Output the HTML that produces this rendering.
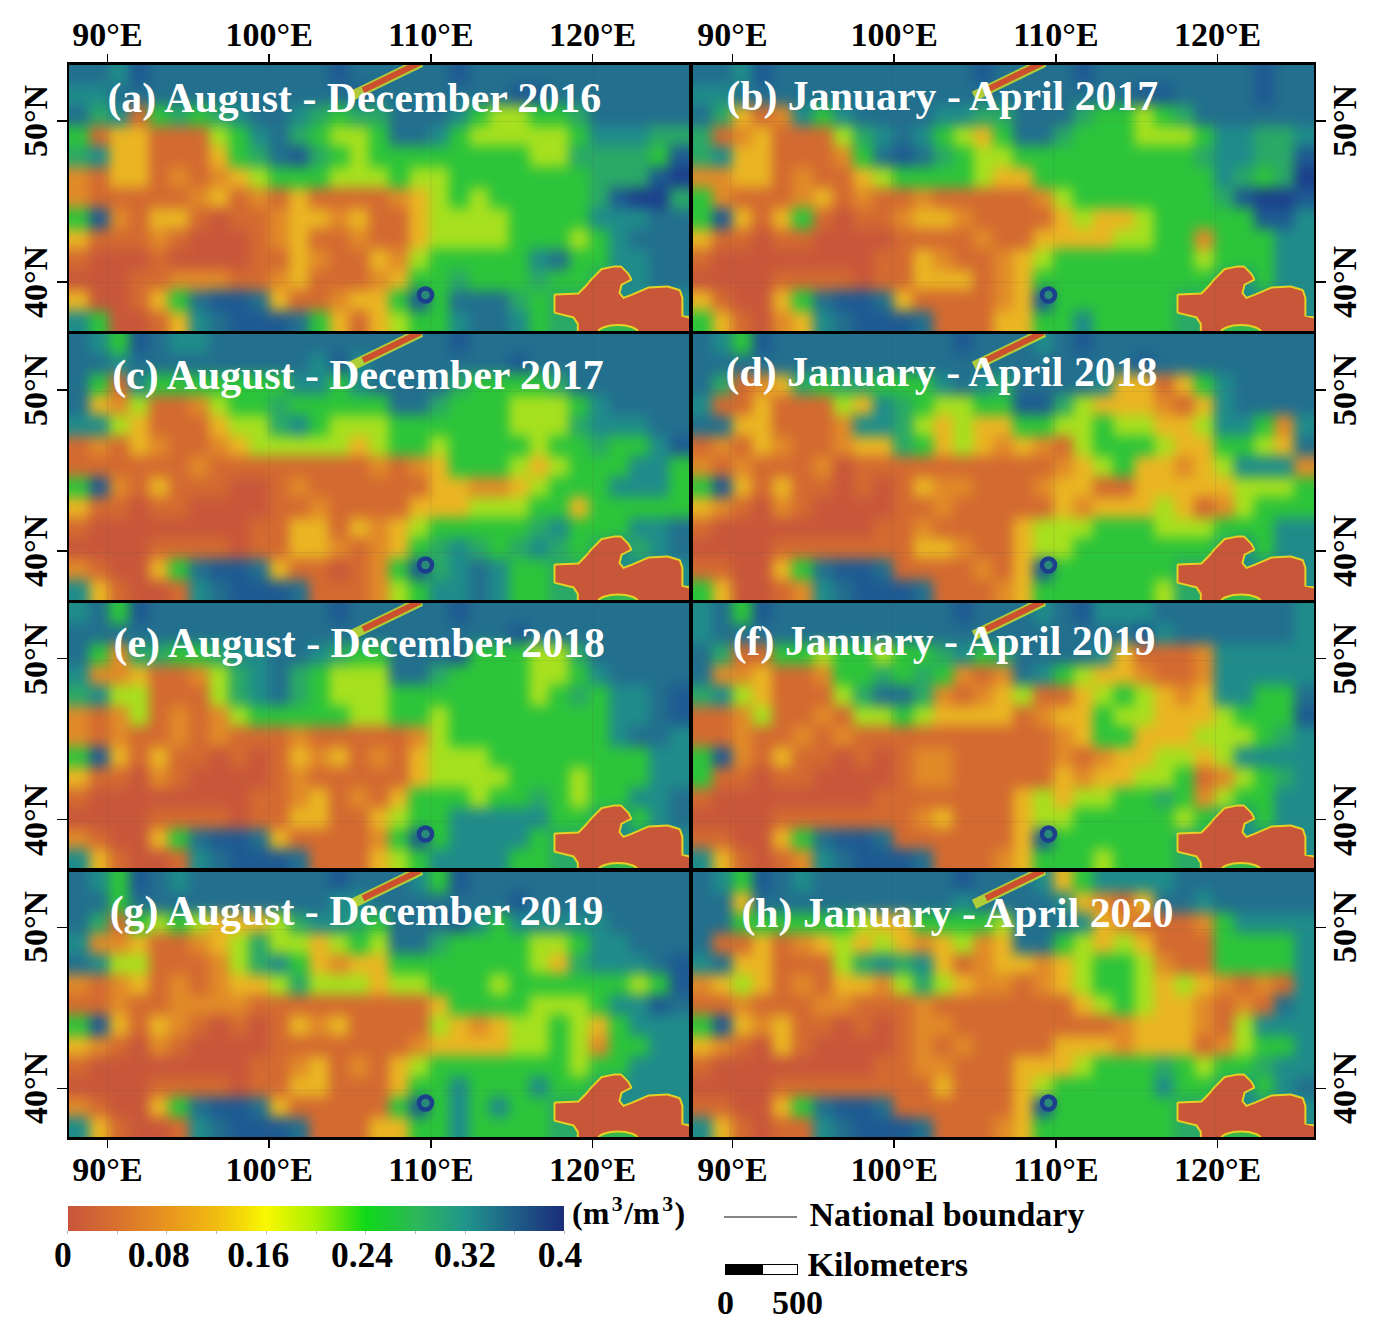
<!DOCTYPE html>
<html><head><meta charset="utf-8"><style>
html,body{margin:0;padding:0;background:#fff;width:1374px;height:1332px;overflow:hidden}
body{position:relative;font-family:'Liberation Serif', serif}
</style></head><body>
<div style="position:absolute;left:69px;top:64px;width:620px;height:267.5px;overflow:hidden"><svg style="position:absolute;left:-40.00px;top:-41.15px" width="700.00" height="349.81" viewBox="0 0 35 17" preserveAspectRatio="none"><defs><filter id="f0" x="-0.1" y="-0.1" width="1.2" height="1.2" color-interpolation-filters="sRGB"><feGaussianBlur stdDeviation="0.3"/></filter></defs><g filter="url(#f0)" shape-rendering="crispEdges"><rect width="35" height="17" fill="#226f8e"/><rect x="4" y="0" width="1" height="1.02" fill="#1f8c8a"/><rect x="5" y="0" width="1" height="1.02" fill="#1e5a92"/><rect x="15" y="0" width="1" height="1.02" fill="#1e5a92"/><rect x="21" y="0" width="1" height="1.02" fill="#1e5a92"/><rect x="4" y="1" width="1" height="1.02" fill="#1f8c8a"/><rect x="5" y="1" width="1" height="1.02" fill="#1e5a92"/><rect x="15" y="1" width="1" height="1.02" fill="#1e5a92"/><rect x="21" y="1" width="1" height="1.02" fill="#1e5a92"/><rect x="4" y="2" width="1" height="1.02" fill="#1f8c8a"/><rect x="5" y="2" width="1" height="1.02" fill="#1e5a92"/><rect x="15" y="2" width="1" height="1.02" fill="#1e5a92"/><rect x="21" y="2" width="1" height="1.02" fill="#1e5a92"/><rect x="0" y="3" width="4" height="1.02" fill="#1f8c8a"/><rect x="16" y="3" width="1" height="1.02" fill="#1e5a92"/><rect x="24" y="3" width="2" height="1.02" fill="#1e5a92"/><rect x="3" y="4" width="1" height="1.02" fill="#2aa866"/><rect x="4" y="4" width="1" height="1.02" fill="#1f8c8a"/><rect x="5" y="4" width="1" height="1.02" fill="#d36a30"/><rect x="6" y="4" width="1" height="1.02" fill="#2cc43a"/><rect x="7" y="4" width="1" height="1.02" fill="#2aa866"/><rect x="8" y="4" width="1" height="1.02" fill="#2cc43a"/><rect x="9" y="4" width="1" height="1.02" fill="#2aa866"/><rect x="10" y="4" width="1" height="1.02" fill="#1f8c8a"/><rect x="13" y="4" width="1" height="1.02" fill="#1f8c8a"/><rect x="14" y="4" width="1" height="1.02" fill="#2aa866"/><rect x="15" y="4" width="1" height="1.02" fill="#2cc43a"/><rect x="16" y="4" width="2" height="1.02" fill="#2aa866"/><rect x="21" y="4" width="1" height="1.02" fill="#1f8c8a"/><rect x="22" y="4" width="1" height="1.02" fill="#2cc43a"/><rect x="23" y="4" width="2" height="1.02" fill="#a6e01e"/><rect x="25" y="4" width="2" height="1.02" fill="#2cc43a"/><rect x="27" y="4" width="1" height="1.02" fill="#2aa866"/><rect x="0" y="5" width="3" height="1.02" fill="#2cc43a"/><rect x="3" y="5" width="1" height="1.02" fill="#d36a30"/><rect x="4" y="5" width="2" height="1.02" fill="#eab522"/><rect x="6" y="5" width="3" height="1.02" fill="#d36a30"/><rect x="9" y="5" width="1" height="1.02" fill="#a6e01e"/><rect x="10" y="5" width="1" height="1.02" fill="#2cc43a"/><rect x="11" y="5" width="1" height="1.02" fill="#1f8c8a"/><rect x="13" y="5" width="1" height="1.02" fill="#2aa866"/><rect x="14" y="5" width="1" height="1.02" fill="#2cc43a"/><rect x="15" y="5" width="2" height="1.02" fill="#a6e01e"/><rect x="17" y="5" width="1" height="1.02" fill="#2cc43a"/><rect x="20" y="5" width="1" height="1.02" fill="#1f8c8a"/><rect x="21" y="5" width="1" height="1.02" fill="#2cc43a"/><rect x="22" y="5" width="5" height="1.02" fill="#a6e01e"/><rect x="27" y="5" width="1" height="1.02" fill="#2cc43a"/><rect x="28" y="5" width="3" height="1.02" fill="#1f8c8a"/><rect x="31" y="5" width="4" height="1.02" fill="#2aa866"/><rect x="0" y="6" width="3" height="1.02" fill="#2aa866"/><rect x="3" y="6" width="1" height="1.02" fill="#1f8c8a"/><rect x="4" y="6" width="2" height="1.02" fill="#eab522"/><rect x="6" y="6" width="3" height="1.02" fill="#d36a30"/><rect x="9" y="6" width="1" height="1.02" fill="#eab522"/><rect x="10" y="6" width="1" height="1.02" fill="#2cc43a"/><rect x="11" y="6" width="1" height="1.02" fill="#2aa866"/><rect x="13" y="6" width="1" height="1.02" fill="#1e5a92"/><rect x="14" y="6" width="1" height="1.02" fill="#2aa866"/><rect x="15" y="6" width="1" height="1.02" fill="#2cc43a"/><rect x="16" y="6" width="1" height="1.02" fill="#a6e01e"/><rect x="17" y="6" width="8" height="1.02" fill="#2cc43a"/><rect x="25" y="6" width="2" height="1.02" fill="#a6e01e"/><rect x="27" y="6" width="4" height="1.02" fill="#2aa866"/><rect x="31" y="6" width="1" height="1.02" fill="#2cc43a"/><rect x="32" y="6" width="3" height="1.02" fill="#1e5a92"/><rect x="0" y="7" width="3" height="1.02" fill="#e08a28"/><rect x="3" y="7" width="1" height="1.02" fill="#d36a30"/><rect x="4" y="7" width="2" height="1.02" fill="#eab522"/><rect x="6" y="7" width="1" height="1.02" fill="#d36a30"/><rect x="7" y="7" width="1" height="1.02" fill="#e08a28"/><rect x="8" y="7" width="1" height="1.02" fill="#d36a30"/><rect x="9" y="7" width="1" height="1.02" fill="#e08a28"/><rect x="10" y="7" width="1" height="1.02" fill="#eab522"/><rect x="11" y="7" width="1" height="1.02" fill="#a6e01e"/><rect x="12" y="7" width="3" height="1.02" fill="#2cc43a"/><rect x="15" y="7" width="3" height="1.02" fill="#a6e01e"/><rect x="18" y="7" width="1" height="1.02" fill="#2cc43a"/><rect x="19" y="7" width="2" height="1.02" fill="#a6e01e"/><rect x="21" y="7" width="7" height="1.02" fill="#2cc43a"/><rect x="28" y="7" width="3" height="1.02" fill="#2aa866"/><rect x="31" y="7" width="1" height="1.02" fill="#1e5a92"/><rect x="32" y="7" width="3" height="1.02" fill="#1b3f8c"/><rect x="0" y="8" width="3" height="1.02" fill="#e08a28"/><rect x="3" y="8" width="5" height="1.02" fill="#d36a30"/><rect x="8" y="8" width="1" height="1.02" fill="#e08a28"/><rect x="9" y="8" width="1" height="1.02" fill="#eab522"/><rect x="10" y="8" width="1" height="1.02" fill="#d36a30"/><rect x="11" y="8" width="1" height="1.02" fill="#e08a28"/><rect x="12" y="8" width="1" height="1.02" fill="#d36a30"/><rect x="13" y="8" width="1" height="1.02" fill="#eab522"/><rect x="14" y="8" width="4" height="1.02" fill="#d36a30"/><rect x="18" y="8" width="1" height="1.02" fill="#e08a28"/><rect x="19" y="8" width="1" height="1.02" fill="#eab522"/><rect x="20" y="8" width="1" height="1.02" fill="#a6e01e"/><rect x="21" y="8" width="1" height="1.02" fill="#2cc43a"/><rect x="22" y="8" width="1" height="1.02" fill="#a6e01e"/><rect x="23" y="8" width="5" height="1.02" fill="#2cc43a"/><rect x="28" y="8" width="1" height="1.02" fill="#2aa866"/><rect x="29" y="8" width="1" height="1.02" fill="#1e5a92"/><rect x="30" y="8" width="2" height="1.02" fill="#1b3f8c"/><rect x="32" y="8" width="3" height="1.02" fill="#2aa866"/><rect x="0" y="9" width="3" height="1.02" fill="#2cc43a"/><rect x="3" y="9" width="1" height="1.02" fill="#1e5a92"/><rect x="4" y="9" width="1" height="1.02" fill="#e08a28"/><rect x="5" y="9" width="1" height="1.02" fill="#d36a30"/><rect x="6" y="9" width="2" height="1.02" fill="#eab522"/><rect x="8" y="9" width="1" height="1.02" fill="#d36a30"/><rect x="9" y="9" width="1" height="1.02" fill="#c8573a"/><rect x="10" y="9" width="2" height="1.02" fill="#d36a30"/><rect x="12" y="9" width="1" height="1.02" fill="#e08a28"/><rect x="13" y="9" width="2" height="1.02" fill="#eab522"/><rect x="15" y="9" width="1" height="1.02" fill="#e08a28"/><rect x="16" y="9" width="1" height="1.02" fill="#eab522"/><rect x="17" y="9" width="2" height="1.02" fill="#d36a30"/><rect x="19" y="9" width="1" height="1.02" fill="#eab522"/><rect x="20" y="9" width="4" height="1.02" fill="#a6e01e"/><rect x="24" y="9" width="4" height="1.02" fill="#2cc43a"/><rect x="28" y="9" width="3" height="1.02" fill="#1f8c8a"/><rect x="0" y="10" width="3" height="1.02" fill="#eab522"/><rect x="3" y="10" width="3" height="1.02" fill="#d36a30"/><rect x="6" y="10" width="1" height="1.02" fill="#e08a28"/><rect x="7" y="10" width="1" height="1.02" fill="#d36a30"/><rect x="8" y="10" width="3" height="1.02" fill="#c8573a"/><rect x="11" y="10" width="1" height="1.02" fill="#d36a30"/><rect x="12" y="10" width="1" height="1.02" fill="#e08a28"/><rect x="13" y="10" width="1" height="1.02" fill="#eab522"/><rect x="14" y="10" width="2" height="1.02" fill="#d36a30"/><rect x="16" y="10" width="1" height="1.02" fill="#e08a28"/><rect x="17" y="10" width="2" height="1.02" fill="#d36a30"/><rect x="19" y="10" width="1" height="1.02" fill="#eab522"/><rect x="20" y="10" width="4" height="1.02" fill="#a6e01e"/><rect x="24" y="10" width="3" height="1.02" fill="#2cc43a"/><rect x="27" y="10" width="1" height="1.02" fill="#a6e01e"/><rect x="28" y="10" width="1" height="1.02" fill="#2cc43a"/><rect x="29" y="10" width="1" height="1.02" fill="#1f8c8a"/><rect x="0" y="11" width="3" height="1.02" fill="#d36a30"/><rect x="3" y="11" width="3" height="1.02" fill="#c8573a"/><rect x="6" y="11" width="1" height="1.02" fill="#d36a30"/><rect x="7" y="11" width="4" height="1.02" fill="#c8573a"/><rect x="11" y="11" width="2" height="1.02" fill="#d36a30"/><rect x="13" y="11" width="1" height="1.02" fill="#eab522"/><rect x="14" y="11" width="1" height="1.02" fill="#e08a28"/><rect x="15" y="11" width="2" height="1.02" fill="#d36a30"/><rect x="17" y="11" width="1" height="1.02" fill="#eab522"/><rect x="18" y="11" width="1" height="1.02" fill="#e08a28"/><rect x="19" y="11" width="1" height="1.02" fill="#a6e01e"/><rect x="20" y="11" width="5" height="1.02" fill="#2cc43a"/><rect x="25" y="11" width="1" height="1.02" fill="#1f8c8a"/><rect x="27" y="11" width="2" height="1.02" fill="#2cc43a"/><rect x="29" y="11" width="2" height="1.02" fill="#1f8c8a"/><rect x="0" y="12" width="5" height="1.02" fill="#c8573a"/><rect x="5" y="12" width="2" height="1.02" fill="#d36a30"/><rect x="7" y="12" width="3" height="1.02" fill="#e08a28"/><rect x="10" y="12" width="2" height="1.02" fill="#d36a30"/><rect x="12" y="12" width="1" height="1.02" fill="#e08a28"/><rect x="13" y="12" width="1" height="1.02" fill="#eab522"/><rect x="14" y="12" width="3" height="1.02" fill="#d36a30"/><rect x="17" y="12" width="1" height="1.02" fill="#e08a28"/><rect x="18" y="12" width="1" height="1.02" fill="#eab522"/><rect x="19" y="12" width="2" height="1.02" fill="#2cc43a"/><rect x="21" y="12" width="1" height="1.02" fill="#2aa866"/><rect x="22" y="12" width="3" height="1.02" fill="#2cc43a"/><rect x="25" y="12" width="1" height="1.02" fill="#2aa866"/><rect x="26" y="12" width="2" height="1.02" fill="#2cc43a"/><rect x="28" y="12" width="1" height="1.02" fill="#2aa866"/><rect x="29" y="12" width="2" height="1.02" fill="#1f8c8a"/><rect x="0" y="13" width="3" height="1.02" fill="#eab522"/><rect x="3" y="13" width="2" height="1.02" fill="#c8573a"/><rect x="5" y="13" width="1" height="1.02" fill="#d36a30"/><rect x="6" y="13" width="1" height="1.02" fill="#eab522"/><rect x="7" y="13" width="1" height="1.02" fill="#2cc43a"/><rect x="9" y="13" width="2" height="1.02" fill="#1e5a92"/><rect x="12" y="13" width="1" height="1.02" fill="#eab522"/><rect x="13" y="13" width="2" height="1.02" fill="#d36a30"/><rect x="15" y="13" width="1" height="1.02" fill="#e08a28"/><rect x="16" y="13" width="2" height="1.02" fill="#eab522"/><rect x="18" y="13" width="1" height="1.02" fill="#2cc43a"/><rect x="19" y="13" width="1" height="1.02" fill="#1e5a92"/><rect x="20" y="13" width="1" height="1.02" fill="#2cc43a"/><rect x="24" y="13" width="1" height="1.02" fill="#2aa866"/><rect x="25" y="13" width="1" height="1.02" fill="#2cc43a"/><rect x="26" y="13" width="3" height="1.02" fill="#2aa866"/><rect x="29" y="13" width="6" height="1.02" fill="#1f8c8a"/><rect x="0" y="14" width="3" height="1.02" fill="#1f8c8a"/><rect x="3" y="14" width="1" height="1.02" fill="#2cc43a"/><rect x="4" y="14" width="2" height="1.02" fill="#c8573a"/><rect x="6" y="14" width="1" height="1.02" fill="#d36a30"/><rect x="7" y="14" width="1" height="1.02" fill="#eab522"/><rect x="8" y="14" width="1" height="1.02" fill="#1f8c8a"/><rect x="10" y="14" width="3" height="1.02" fill="#1e5a92"/><rect x="14" y="14" width="1" height="1.02" fill="#2cc43a"/><rect x="15" y="14" width="1" height="1.02" fill="#eab522"/><rect x="16" y="14" width="1" height="1.02" fill="#d36a30"/><rect x="17" y="14" width="1" height="1.02" fill="#eab522"/><rect x="18" y="14" width="1" height="1.02" fill="#a6e01e"/><rect x="19" y="14" width="2" height="1.02" fill="#2cc43a"/><rect x="21" y="14" width="1" height="1.02" fill="#1f8c8a"/><rect x="24" y="14" width="1" height="1.02" fill="#1f8c8a"/><rect x="25" y="14" width="1" height="1.02" fill="#2cc43a"/><rect x="26" y="14" width="3" height="1.02" fill="#2aa866"/><rect x="29" y="14" width="6" height="1.02" fill="#1f8c8a"/><rect x="0" y="15" width="3" height="1.02" fill="#1f8c8a"/><rect x="3" y="15" width="1" height="1.02" fill="#2cc43a"/><rect x="4" y="15" width="2" height="1.02" fill="#c8573a"/><rect x="6" y="15" width="1" height="1.02" fill="#d36a30"/><rect x="7" y="15" width="1" height="1.02" fill="#eab522"/><rect x="8" y="15" width="1" height="1.02" fill="#1f8c8a"/><rect x="10" y="15" width="3" height="1.02" fill="#1e5a92"/><rect x="14" y="15" width="1" height="1.02" fill="#2cc43a"/><rect x="15" y="15" width="1" height="1.02" fill="#eab522"/><rect x="16" y="15" width="1" height="1.02" fill="#d36a30"/><rect x="17" y="15" width="1" height="1.02" fill="#eab522"/><rect x="18" y="15" width="1" height="1.02" fill="#a6e01e"/><rect x="19" y="15" width="2" height="1.02" fill="#2cc43a"/><rect x="21" y="15" width="1" height="1.02" fill="#1f8c8a"/><rect x="24" y="15" width="1" height="1.02" fill="#1f8c8a"/><rect x="25" y="15" width="1" height="1.02" fill="#2cc43a"/><rect x="26" y="15" width="3" height="1.02" fill="#2aa866"/><rect x="29" y="15" width="6" height="1.02" fill="#1f8c8a"/><rect x="0" y="16" width="3" height="1.02" fill="#1f8c8a"/><rect x="3" y="16" width="1" height="1.02" fill="#2cc43a"/><rect x="4" y="16" width="2" height="1.02" fill="#c8573a"/><rect x="6" y="16" width="1" height="1.02" fill="#d36a30"/><rect x="7" y="16" width="1" height="1.02" fill="#eab522"/><rect x="8" y="16" width="1" height="1.02" fill="#1f8c8a"/><rect x="10" y="16" width="3" height="1.02" fill="#1e5a92"/><rect x="14" y="16" width="1" height="1.02" fill="#2cc43a"/><rect x="15" y="16" width="1" height="1.02" fill="#eab522"/><rect x="16" y="16" width="1" height="1.02" fill="#d36a30"/><rect x="17" y="16" width="1" height="1.02" fill="#eab522"/><rect x="18" y="16" width="1" height="1.02" fill="#a6e01e"/><rect x="19" y="16" width="2" height="1.02" fill="#2cc43a"/><rect x="21" y="16" width="1" height="1.02" fill="#1f8c8a"/><rect x="24" y="16" width="1" height="1.02" fill="#1f8c8a"/><rect x="25" y="16" width="1" height="1.02" fill="#2cc43a"/><rect x="26" y="16" width="3" height="1.02" fill="#2aa866"/><rect x="29" y="16" width="6" height="1.02" fill="#1f8c8a"/></g></svg><svg style="position:absolute;left:0;top:0" width="620" height="267.5"><line x1="282" y1="32.3" x2="352" y2="-1.8" stroke="#c8dc2c" stroke-width="10" stroke-opacity="0.85"/><line x1="294" y1="26.2" x2="351" y2="-1.5" stroke="#cc4f2e" stroke-width="6"/><polygon points="523.8,215.3 533.1,206.0 544.8,203.6 551.7,203.6 558.7,210.6 561.1,215.3 551.7,220.0 549.4,229.3 554.1,235.1 563.4,231.6 579.7,224.6 598.4,223.5 610.0,227.0 612.4,234.0 612.4,252.6 622.0,254.9 622.0,269.5 509.8,269.5 509.8,259.6 505.1,252.6 486.5,247.9 486.5,231.6 509.8,230.5 516.8,223.5" fill="#c8573a" stroke="#e6d024" stroke-width="4" stroke-linejoin="round" paint-order="stroke"/><ellipse cx="549" cy="268.5" rx="20" ry="7.5" fill="#36b84c" stroke="#e6d024" stroke-width="2"/><circle cx="356.5" cy="231" r="6.5" fill="#2a8a7a" stroke="#1b3f8c" stroke-width="4.5"/><line x1="38.5" y1="0" x2="38.5" y2="267.5" stroke="#555" stroke-opacity="0.12" stroke-width="1"/><line x1="200.2" y1="0" x2="200.2" y2="267.5" stroke="#555" stroke-opacity="0.12" stroke-width="1"/><line x1="361.9" y1="0" x2="361.9" y2="267.5" stroke="#555" stroke-opacity="0.12" stroke-width="1"/><line x1="523.6" y1="0" x2="523.6" y2="267.5" stroke="#555" stroke-opacity="0.12" stroke-width="1"/><line x1="0" y1="57.5" x2="620" y2="57.5" stroke="#555" stroke-opacity="0.12" stroke-width="1"/><line x1="0" y1="218.5" x2="620" y2="218.5" stroke="#555" stroke-opacity="0.12" stroke-width="1"/></svg></div><div style="position:absolute;left:692px;top:64px;width:622px;height:267.5px;overflow:hidden"><svg style="position:absolute;left:-40.13px;top:-41.15px" width="702.26" height="349.81" viewBox="0 0 35 17" preserveAspectRatio="none"><defs><filter id="f1" x="-0.1" y="-0.1" width="1.2" height="1.2" color-interpolation-filters="sRGB"><feGaussianBlur stdDeviation="0.3"/></filter></defs><g filter="url(#f1)" shape-rendering="crispEdges"><rect width="35" height="17" fill="#226f8e"/><rect x="4" y="0" width="1" height="1.02" fill="#1f8c8a"/><rect x="5" y="0" width="1" height="1.02" fill="#1e5a92"/><rect x="16" y="0" width="1" height="1.02" fill="#1e5a92"/><rect x="21" y="0" width="1" height="1.02" fill="#1e5a92"/><rect x="30" y="0" width="1" height="1.02" fill="#1e5a92"/><rect x="4" y="1" width="1" height="1.02" fill="#1f8c8a"/><rect x="5" y="1" width="1" height="1.02" fill="#1e5a92"/><rect x="16" y="1" width="1" height="1.02" fill="#1e5a92"/><rect x="21" y="1" width="1" height="1.02" fill="#1e5a92"/><rect x="30" y="1" width="1" height="1.02" fill="#1e5a92"/><rect x="4" y="2" width="1" height="1.02" fill="#1f8c8a"/><rect x="5" y="2" width="1" height="1.02" fill="#1e5a92"/><rect x="16" y="2" width="1" height="1.02" fill="#1e5a92"/><rect x="21" y="2" width="1" height="1.02" fill="#1e5a92"/><rect x="30" y="2" width="1" height="1.02" fill="#1e5a92"/><rect x="0" y="3" width="4" height="1.02" fill="#1f8c8a"/><rect x="24" y="3" width="2" height="1.02" fill="#1e5a92"/><rect x="30" y="3" width="1" height="1.02" fill="#1e5a92"/><rect x="3" y="4" width="1" height="1.02" fill="#2aa866"/><rect x="4" y="4" width="1" height="1.02" fill="#eab522"/><rect x="5" y="4" width="1" height="1.02" fill="#d36a30"/><rect x="6" y="4" width="1" height="1.02" fill="#e08a28"/><rect x="7" y="4" width="1" height="1.02" fill="#1f8c8a"/><rect x="8" y="4" width="1" height="1.02" fill="#2cc43a"/><rect x="9" y="4" width="1" height="1.02" fill="#1f8c8a"/><rect x="14" y="4" width="2" height="1.02" fill="#1f8c8a"/><rect x="16" y="4" width="2" height="1.02" fill="#2aa866"/><rect x="21" y="4" width="1" height="1.02" fill="#2aa866"/><rect x="22" y="4" width="2" height="1.02" fill="#2cc43a"/><rect x="24" y="4" width="1" height="1.02" fill="#a6e01e"/><rect x="25" y="4" width="1" height="1.02" fill="#2cc43a"/><rect x="26" y="4" width="1" height="1.02" fill="#2aa866"/><rect x="0" y="5" width="3" height="1.02" fill="#2aa866"/><rect x="3" y="5" width="1" height="1.02" fill="#d36a30"/><rect x="4" y="5" width="1" height="1.02" fill="#e08a28"/><rect x="5" y="5" width="1" height="1.02" fill="#eab522"/><rect x="6" y="5" width="3" height="1.02" fill="#d36a30"/><rect x="9" y="5" width="1" height="1.02" fill="#a6e01e"/><rect x="10" y="5" width="1" height="1.02" fill="#2aa866"/><rect x="11" y="5" width="1" height="1.02" fill="#1f8c8a"/><rect x="13" y="5" width="1" height="1.02" fill="#1f8c8a"/><rect x="14" y="5" width="1" height="1.02" fill="#2cc43a"/><rect x="15" y="5" width="1" height="1.02" fill="#a6e01e"/><rect x="16" y="5" width="1" height="1.02" fill="#eab522"/><rect x="17" y="5" width="1" height="1.02" fill="#2cc43a"/><rect x="20" y="5" width="1" height="1.02" fill="#2aa866"/><rect x="21" y="5" width="3" height="1.02" fill="#2cc43a"/><rect x="24" y="5" width="3" height="1.02" fill="#a6e01e"/><rect x="27" y="5" width="1" height="1.02" fill="#2cc43a"/><rect x="28" y="5" width="2" height="1.02" fill="#1f8c8a"/><rect x="30" y="5" width="2" height="1.02" fill="#2aa866"/><rect x="32" y="5" width="3" height="1.02" fill="#1f8c8a"/><rect x="0" y="6" width="3" height="1.02" fill="#2aa866"/><rect x="3" y="6" width="1" height="1.02" fill="#1f8c8a"/><rect x="4" y="6" width="2" height="1.02" fill="#eab522"/><rect x="6" y="6" width="3" height="1.02" fill="#d36a30"/><rect x="9" y="6" width="1" height="1.02" fill="#e08a28"/><rect x="10" y="6" width="1" height="1.02" fill="#2cc43a"/><rect x="12" y="6" width="1" height="1.02" fill="#1e5a92"/><rect x="14" y="6" width="1" height="1.02" fill="#2aa866"/><rect x="15" y="6" width="1" height="1.02" fill="#2cc43a"/><rect x="16" y="6" width="2" height="1.02" fill="#a6e01e"/><rect x="18" y="6" width="9" height="1.02" fill="#2cc43a"/><rect x="27" y="6" width="1" height="1.02" fill="#2aa866"/><rect x="28" y="6" width="2" height="1.02" fill="#1f8c8a"/><rect x="30" y="6" width="2" height="1.02" fill="#2aa866"/><rect x="32" y="6" width="3" height="1.02" fill="#1e5a92"/><rect x="0" y="7" width="4" height="1.02" fill="#e08a28"/><rect x="4" y="7" width="2" height="1.02" fill="#eab522"/><rect x="6" y="7" width="1" height="1.02" fill="#d36a30"/><rect x="7" y="7" width="1" height="1.02" fill="#e08a28"/><rect x="8" y="7" width="2" height="1.02" fill="#d36a30"/><rect x="10" y="7" width="1" height="1.02" fill="#eab522"/><rect x="11" y="7" width="1" height="1.02" fill="#a6e01e"/><rect x="12" y="7" width="4" height="1.02" fill="#2cc43a"/><rect x="16" y="7" width="1" height="1.02" fill="#a6e01e"/><rect x="17" y="7" width="2" height="1.02" fill="#eab522"/><rect x="19" y="7" width="9" height="1.02" fill="#2cc43a"/><rect x="28" y="7" width="1" height="1.02" fill="#1f8c8a"/><rect x="29" y="7" width="1" height="1.02" fill="#2aa866"/><rect x="30" y="7" width="1" height="1.02" fill="#2cc43a"/><rect x="31" y="7" width="1" height="1.02" fill="#2aa866"/><rect x="32" y="7" width="3" height="1.02" fill="#1b3f8c"/><rect x="0" y="8" width="3" height="1.02" fill="#2cc43a"/><rect x="3" y="8" width="1" height="1.02" fill="#e08a28"/><rect x="4" y="8" width="3" height="1.02" fill="#d36a30"/><rect x="7" y="8" width="1" height="1.02" fill="#e08a28"/><rect x="8" y="8" width="1" height="1.02" fill="#eab522"/><rect x="9" y="8" width="1" height="1.02" fill="#d36a30"/><rect x="10" y="8" width="1" height="1.02" fill="#e08a28"/><rect x="11" y="8" width="2" height="1.02" fill="#d36a30"/><rect x="13" y="8" width="1" height="1.02" fill="#e08a28"/><rect x="14" y="8" width="5" height="1.02" fill="#d36a30"/><rect x="19" y="8" width="1" height="1.02" fill="#e08a28"/><rect x="20" y="8" width="1" height="1.02" fill="#a6e01e"/><rect x="21" y="8" width="7" height="1.02" fill="#2cc43a"/><rect x="28" y="8" width="1" height="1.02" fill="#2aa866"/><rect x="29" y="8" width="1" height="1.02" fill="#1e5a92"/><rect x="30" y="8" width="2" height="1.02" fill="#1b3f8c"/><rect x="32" y="8" width="3" height="1.02" fill="#1e5a92"/><rect x="0" y="9" width="3" height="1.02" fill="#2cc43a"/><rect x="3" y="9" width="1" height="1.02" fill="#1e5a92"/><rect x="4" y="9" width="1" height="1.02" fill="#eab522"/><rect x="5" y="9" width="1" height="1.02" fill="#d36a30"/><rect x="6" y="9" width="1" height="1.02" fill="#eab522"/><rect x="7" y="9" width="1" height="1.02" fill="#2cc43a"/><rect x="8" y="9" width="1" height="1.02" fill="#d36a30"/><rect x="9" y="9" width="1" height="1.02" fill="#c8573a"/><rect x="10" y="9" width="2" height="1.02" fill="#d36a30"/><rect x="12" y="9" width="1" height="1.02" fill="#e08a28"/><rect x="13" y="9" width="2" height="1.02" fill="#eab522"/><rect x="15" y="9" width="1" height="1.02" fill="#e08a28"/><rect x="16" y="9" width="4" height="1.02" fill="#d36a30"/><rect x="20" y="9" width="1" height="1.02" fill="#eab522"/><rect x="21" y="9" width="1" height="1.02" fill="#a6e01e"/><rect x="22" y="9" width="2" height="1.02" fill="#eab522"/><rect x="24" y="9" width="1" height="1.02" fill="#a6e01e"/><rect x="25" y="9" width="5" height="1.02" fill="#2cc43a"/><rect x="30" y="9" width="2" height="1.02" fill="#1e5a92"/><rect x="32" y="9" width="3" height="1.02" fill="#1f8c8a"/><rect x="0" y="10" width="3" height="1.02" fill="#eab522"/><rect x="3" y="10" width="2" height="1.02" fill="#d36a30"/><rect x="5" y="10" width="1" height="1.02" fill="#c8573a"/><rect x="6" y="10" width="2" height="1.02" fill="#d36a30"/><rect x="8" y="10" width="4" height="1.02" fill="#c8573a"/><rect x="12" y="10" width="4" height="1.02" fill="#d36a30"/><rect x="16" y="10" width="1" height="1.02" fill="#e08a28"/><rect x="17" y="10" width="2" height="1.02" fill="#d36a30"/><rect x="19" y="10" width="4" height="1.02" fill="#eab522"/><rect x="23" y="10" width="2" height="1.02" fill="#a6e01e"/><rect x="25" y="10" width="2" height="1.02" fill="#2cc43a"/><rect x="27" y="10" width="1" height="1.02" fill="#e08a28"/><rect x="28" y="10" width="3" height="1.02" fill="#2cc43a"/><rect x="31" y="10" width="4" height="1.02" fill="#1f8c8a"/><rect x="0" y="11" width="3" height="1.02" fill="#d36a30"/><rect x="3" y="11" width="8" height="1.02" fill="#c8573a"/><rect x="11" y="11" width="2" height="1.02" fill="#d36a30"/><rect x="13" y="11" width="1" height="1.02" fill="#eab522"/><rect x="14" y="11" width="1" height="1.02" fill="#e08a28"/><rect x="15" y="11" width="2" height="1.02" fill="#d36a30"/><rect x="17" y="11" width="1" height="1.02" fill="#e08a28"/><rect x="18" y="11" width="1" height="1.02" fill="#eab522"/><rect x="19" y="11" width="1" height="1.02" fill="#a6e01e"/><rect x="20" y="11" width="7" height="1.02" fill="#2cc43a"/><rect x="27" y="11" width="1" height="1.02" fill="#a6e01e"/><rect x="28" y="11" width="3" height="1.02" fill="#2cc43a"/><rect x="31" y="11" width="4" height="1.02" fill="#1f8c8a"/><rect x="0" y="12" width="6" height="1.02" fill="#c8573a"/><rect x="6" y="12" width="4" height="1.02" fill="#d36a30"/><rect x="10" y="12" width="1" height="1.02" fill="#c8573a"/><rect x="11" y="12" width="2" height="1.02" fill="#d36a30"/><rect x="13" y="12" width="3" height="1.02" fill="#eab522"/><rect x="16" y="12" width="1" height="1.02" fill="#d36a30"/><rect x="17" y="12" width="1" height="1.02" fill="#e08a28"/><rect x="18" y="12" width="1" height="1.02" fill="#eab522"/><rect x="19" y="12" width="9" height="1.02" fill="#2cc43a"/><rect x="28" y="12" width="1" height="1.02" fill="#2aa866"/><rect x="29" y="12" width="1" height="1.02" fill="#1f8c8a"/><rect x="30" y="12" width="1" height="1.02" fill="#2cc43a"/><rect x="31" y="12" width="4" height="1.02" fill="#1f8c8a"/><rect x="0" y="13" width="3" height="1.02" fill="#eab522"/><rect x="3" y="13" width="1" height="1.02" fill="#d36a30"/><rect x="4" y="13" width="2" height="1.02" fill="#c8573a"/><rect x="6" y="13" width="1" height="1.02" fill="#eab522"/><rect x="7" y="13" width="1" height="1.02" fill="#2cc43a"/><rect x="9" y="13" width="2" height="1.02" fill="#1e5a92"/><rect x="12" y="13" width="1" height="1.02" fill="#eab522"/><rect x="13" y="13" width="4" height="1.02" fill="#d36a30"/><rect x="17" y="13" width="1" height="1.02" fill="#e08a28"/><rect x="18" y="13" width="1" height="1.02" fill="#eab522"/><rect x="19" y="13" width="1" height="1.02" fill="#1e5a92"/><rect x="20" y="13" width="6" height="1.02" fill="#2cc43a"/><rect x="26" y="13" width="3" height="1.02" fill="#2aa866"/><rect x="29" y="13" width="6" height="1.02" fill="#1f8c8a"/><rect x="0" y="14" width="3" height="1.02" fill="#2cc43a"/><rect x="3" y="14" width="1" height="1.02" fill="#eab522"/><rect x="4" y="14" width="1" height="1.02" fill="#d36a30"/><rect x="5" y="14" width="1" height="1.02" fill="#c8573a"/><rect x="6" y="14" width="1" height="1.02" fill="#e08a28"/><rect x="7" y="14" width="1" height="1.02" fill="#eab522"/><rect x="8" y="14" width="1" height="1.02" fill="#1f8c8a"/><rect x="10" y="14" width="3" height="1.02" fill="#1e5a92"/><rect x="14" y="14" width="3" height="1.02" fill="#d36a30"/><rect x="17" y="14" width="2" height="1.02" fill="#eab522"/><rect x="19" y="14" width="2" height="1.02" fill="#2cc43a"/><rect x="21" y="14" width="1" height="1.02" fill="#1f8c8a"/><rect x="22" y="14" width="4" height="1.02" fill="#2cc43a"/><rect x="26" y="14" width="3" height="1.02" fill="#2aa866"/><rect x="29" y="14" width="6" height="1.02" fill="#1f8c8a"/><rect x="0" y="15" width="3" height="1.02" fill="#2cc43a"/><rect x="3" y="15" width="1" height="1.02" fill="#eab522"/><rect x="4" y="15" width="1" height="1.02" fill="#d36a30"/><rect x="5" y="15" width="1" height="1.02" fill="#c8573a"/><rect x="6" y="15" width="1" height="1.02" fill="#e08a28"/><rect x="7" y="15" width="1" height="1.02" fill="#eab522"/><rect x="8" y="15" width="1" height="1.02" fill="#1f8c8a"/><rect x="10" y="15" width="3" height="1.02" fill="#1e5a92"/><rect x="14" y="15" width="3" height="1.02" fill="#d36a30"/><rect x="17" y="15" width="2" height="1.02" fill="#eab522"/><rect x="19" y="15" width="2" height="1.02" fill="#2cc43a"/><rect x="21" y="15" width="1" height="1.02" fill="#1f8c8a"/><rect x="22" y="15" width="4" height="1.02" fill="#2cc43a"/><rect x="26" y="15" width="3" height="1.02" fill="#2aa866"/><rect x="29" y="15" width="6" height="1.02" fill="#1f8c8a"/><rect x="0" y="16" width="3" height="1.02" fill="#2cc43a"/><rect x="3" y="16" width="1" height="1.02" fill="#eab522"/><rect x="4" y="16" width="1" height="1.02" fill="#d36a30"/><rect x="5" y="16" width="1" height="1.02" fill="#c8573a"/><rect x="6" y="16" width="1" height="1.02" fill="#e08a28"/><rect x="7" y="16" width="1" height="1.02" fill="#eab522"/><rect x="8" y="16" width="1" height="1.02" fill="#1f8c8a"/><rect x="10" y="16" width="3" height="1.02" fill="#1e5a92"/><rect x="14" y="16" width="3" height="1.02" fill="#d36a30"/><rect x="17" y="16" width="2" height="1.02" fill="#eab522"/><rect x="19" y="16" width="2" height="1.02" fill="#2cc43a"/><rect x="21" y="16" width="1" height="1.02" fill="#1f8c8a"/><rect x="22" y="16" width="4" height="1.02" fill="#2cc43a"/><rect x="26" y="16" width="3" height="1.02" fill="#2aa866"/><rect x="29" y="16" width="6" height="1.02" fill="#1f8c8a"/></g></svg><svg style="position:absolute;left:0;top:0" width="622" height="267.5"><line x1="282" y1="32.3" x2="352" y2="-1.8" stroke="#c8dc2c" stroke-width="10" stroke-opacity="0.85"/><line x1="294" y1="26.2" x2="351" y2="-1.5" stroke="#cc4f2e" stroke-width="6"/><polygon points="523.8,215.3 533.1,206.0 544.8,203.6 551.7,203.6 558.7,210.6 561.1,215.3 551.7,220.0 549.4,229.3 554.1,235.1 563.4,231.6 579.7,224.6 598.4,223.5 610.0,227.0 612.4,234.0 612.4,252.6 624.0,254.9 624.0,269.5 509.8,269.5 509.8,259.6 505.1,252.6 486.5,247.9 486.5,231.6 509.8,230.5 516.8,223.5" fill="#c8573a" stroke="#e6d024" stroke-width="4" stroke-linejoin="round" paint-order="stroke"/><ellipse cx="549" cy="268.5" rx="20" ry="7.5" fill="#36b84c" stroke="#e6d024" stroke-width="2"/><circle cx="356.5" cy="231" r="6.5" fill="#2a8a7a" stroke="#1b3f8c" stroke-width="4.5"/><line x1="38.5" y1="0" x2="38.5" y2="267.5" stroke="#555" stroke-opacity="0.12" stroke-width="1"/><line x1="200.2" y1="0" x2="200.2" y2="267.5" stroke="#555" stroke-opacity="0.12" stroke-width="1"/><line x1="361.9" y1="0" x2="361.9" y2="267.5" stroke="#555" stroke-opacity="0.12" stroke-width="1"/><line x1="523.6" y1="0" x2="523.6" y2="267.5" stroke="#555" stroke-opacity="0.12" stroke-width="1"/><line x1="0" y1="57.5" x2="622" y2="57.5" stroke="#555" stroke-opacity="0.12" stroke-width="1"/><line x1="0" y1="218.5" x2="622" y2="218.5" stroke="#555" stroke-opacity="0.12" stroke-width="1"/></svg></div><div style="position:absolute;left:69px;top:333.5px;width:620px;height:267.0px;overflow:hidden"><svg style="position:absolute;left:-40.00px;top:-41.08px" width="700.00" height="349.15" viewBox="0 0 35 17" preserveAspectRatio="none"><defs><filter id="f2" x="-0.1" y="-0.1" width="1.2" height="1.2" color-interpolation-filters="sRGB"><feGaussianBlur stdDeviation="0.3"/></filter></defs><g filter="url(#f2)" shape-rendering="crispEdges"><rect width="35" height="17" fill="#226f8e"/><rect x="3" y="0" width="1" height="1.02" fill="#1f8c8a"/><rect x="4" y="0" width="1" height="1.02" fill="#2cc43a"/><rect x="5" y="0" width="1" height="1.02" fill="#1e5a92"/><rect x="7" y="0" width="2" height="1.02" fill="#1f8c8a"/><rect x="21" y="0" width="1" height="1.02" fill="#1e5a92"/><rect x="3" y="1" width="1" height="1.02" fill="#1f8c8a"/><rect x="4" y="1" width="1" height="1.02" fill="#2cc43a"/><rect x="5" y="1" width="1" height="1.02" fill="#1e5a92"/><rect x="7" y="1" width="2" height="1.02" fill="#1f8c8a"/><rect x="21" y="1" width="1" height="1.02" fill="#1e5a92"/><rect x="3" y="2" width="1" height="1.02" fill="#1f8c8a"/><rect x="4" y="2" width="1" height="1.02" fill="#2cc43a"/><rect x="5" y="2" width="1" height="1.02" fill="#1e5a92"/><rect x="7" y="2" width="2" height="1.02" fill="#1f8c8a"/><rect x="21" y="2" width="1" height="1.02" fill="#1e5a92"/><rect x="4" y="3" width="1" height="1.02" fill="#1f8c8a"/><rect x="14" y="3" width="1" height="1.02" fill="#1f8c8a"/><rect x="15" y="3" width="1" height="1.02" fill="#1e5a92"/><rect x="16" y="3" width="1" height="1.02" fill="#1f8c8a"/><rect x="24" y="3" width="1" height="1.02" fill="#1e5a92"/><rect x="3" y="4" width="1" height="1.02" fill="#2cc43a"/><rect x="4" y="4" width="1" height="1.02" fill="#d36a30"/><rect x="5" y="4" width="1" height="1.02" fill="#1f8c8a"/><rect x="6" y="4" width="7" height="1.02" fill="#2cc43a"/><rect x="13" y="4" width="2" height="1.02" fill="#1f8c8a"/><rect x="15" y="4" width="1" height="1.02" fill="#2cc43a"/><rect x="16" y="4" width="1" height="1.02" fill="#1f8c8a"/><rect x="21" y="4" width="1" height="1.02" fill="#2aa866"/><rect x="22" y="4" width="4" height="1.02" fill="#2cc43a"/><rect x="26" y="4" width="1" height="1.02" fill="#2aa866"/><rect x="3" y="5" width="1" height="1.02" fill="#eab522"/><rect x="4" y="5" width="1" height="1.02" fill="#e08a28"/><rect x="5" y="5" width="1" height="1.02" fill="#a6e01e"/><rect x="6" y="5" width="2" height="1.02" fill="#d36a30"/><rect x="8" y="5" width="1" height="1.02" fill="#e08a28"/><rect x="9" y="5" width="1" height="1.02" fill="#a6e01e"/><rect x="10" y="5" width="2" height="1.02" fill="#2cc43a"/><rect x="12" y="5" width="1" height="1.02" fill="#2aa866"/><rect x="13" y="5" width="5" height="1.02" fill="#2cc43a"/><rect x="20" y="5" width="1" height="1.02" fill="#2aa866"/><rect x="21" y="5" width="3" height="1.02" fill="#2cc43a"/><rect x="24" y="5" width="3" height="1.02" fill="#a6e01e"/><rect x="27" y="5" width="1" height="1.02" fill="#2cc43a"/><rect x="28" y="5" width="1" height="1.02" fill="#1f8c8a"/><rect x="0" y="6" width="4" height="1.02" fill="#1f8c8a"/><rect x="4" y="6" width="1" height="1.02" fill="#a6e01e"/><rect x="5" y="6" width="1" height="1.02" fill="#eab522"/><rect x="6" y="6" width="3" height="1.02" fill="#d36a30"/><rect x="9" y="6" width="1" height="1.02" fill="#eab522"/><rect x="10" y="6" width="2" height="1.02" fill="#a6e01e"/><rect x="12" y="6" width="1" height="1.02" fill="#2aa866"/><rect x="13" y="6" width="1" height="1.02" fill="#1f8c8a"/><rect x="14" y="6" width="1" height="1.02" fill="#2cc43a"/><rect x="15" y="6" width="3" height="1.02" fill="#a6e01e"/><rect x="18" y="6" width="6" height="1.02" fill="#2cc43a"/><rect x="24" y="6" width="3" height="1.02" fill="#a6e01e"/><rect x="27" y="6" width="1" height="1.02" fill="#2aa866"/><rect x="28" y="6" width="3" height="1.02" fill="#1f8c8a"/><rect x="0" y="7" width="3" height="1.02" fill="#d36a30"/><rect x="3" y="7" width="1" height="1.02" fill="#e08a28"/><rect x="4" y="7" width="1" height="1.02" fill="#d36a30"/><rect x="5" y="7" width="1" height="1.02" fill="#eab522"/><rect x="6" y="7" width="1" height="1.02" fill="#e08a28"/><rect x="7" y="7" width="2" height="1.02" fill="#d36a30"/><rect x="9" y="7" width="1" height="1.02" fill="#e08a28"/><rect x="10" y="7" width="1" height="1.02" fill="#eab522"/><rect x="11" y="7" width="5" height="1.02" fill="#a6e01e"/><rect x="16" y="7" width="1" height="1.02" fill="#eab522"/><rect x="17" y="7" width="1" height="1.02" fill="#a6e01e"/><rect x="18" y="7" width="2" height="1.02" fill="#2cc43a"/><rect x="20" y="7" width="1" height="1.02" fill="#a6e01e"/><rect x="21" y="7" width="4" height="1.02" fill="#2cc43a"/><rect x="25" y="7" width="1" height="1.02" fill="#a6e01e"/><rect x="26" y="7" width="2" height="1.02" fill="#2cc43a"/><rect x="28" y="7" width="1" height="1.02" fill="#2aa866"/><rect x="29" y="7" width="2" height="1.02" fill="#2cc43a"/><rect x="31" y="7" width="1" height="1.02" fill="#1f8c8a"/><rect x="32" y="7" width="3" height="1.02" fill="#1e5a92"/><rect x="0" y="8" width="8" height="1.02" fill="#d36a30"/><rect x="8" y="8" width="1" height="1.02" fill="#e08a28"/><rect x="9" y="8" width="8" height="1.02" fill="#d36a30"/><rect x="17" y="8" width="1" height="1.02" fill="#e08a28"/><rect x="18" y="8" width="1" height="1.02" fill="#d36a30"/><rect x="19" y="8" width="1" height="1.02" fill="#e08a28"/><rect x="20" y="8" width="1" height="1.02" fill="#eab522"/><rect x="21" y="8" width="3" height="1.02" fill="#2cc43a"/><rect x="24" y="8" width="1" height="1.02" fill="#a6e01e"/><rect x="25" y="8" width="1" height="1.02" fill="#eab522"/><rect x="26" y="8" width="1" height="1.02" fill="#a6e01e"/><rect x="27" y="8" width="3" height="1.02" fill="#2cc43a"/><rect x="30" y="8" width="2" height="1.02" fill="#1f8c8a"/><rect x="32" y="8" width="3" height="1.02" fill="#2cc43a"/><rect x="0" y="9" width="3" height="1.02" fill="#2cc43a"/><rect x="3" y="9" width="1" height="1.02" fill="#1e5a92"/><rect x="4" y="9" width="1" height="1.02" fill="#e08a28"/><rect x="5" y="9" width="1" height="1.02" fill="#d36a30"/><rect x="6" y="9" width="1" height="1.02" fill="#eab522"/><rect x="7" y="9" width="3" height="1.02" fill="#d36a30"/><rect x="10" y="9" width="2" height="1.02" fill="#c8573a"/><rect x="12" y="9" width="1" height="1.02" fill="#d36a30"/><rect x="13" y="9" width="1" height="1.02" fill="#e08a28"/><rect x="14" y="9" width="6" height="1.02" fill="#d36a30"/><rect x="20" y="9" width="2" height="1.02" fill="#eab522"/><rect x="22" y="9" width="2" height="1.02" fill="#e08a28"/><rect x="24" y="9" width="1" height="1.02" fill="#eab522"/><rect x="25" y="9" width="1" height="1.02" fill="#a6e01e"/><rect x="26" y="9" width="3" height="1.02" fill="#2cc43a"/><rect x="29" y="9" width="3" height="1.02" fill="#1f8c8a"/><rect x="32" y="9" width="3" height="1.02" fill="#2cc43a"/><rect x="0" y="10" width="3" height="1.02" fill="#eab522"/><rect x="3" y="10" width="2" height="1.02" fill="#d36a30"/><rect x="5" y="10" width="1" height="1.02" fill="#c8573a"/><rect x="6" y="10" width="2" height="1.02" fill="#d36a30"/><rect x="8" y="10" width="4" height="1.02" fill="#c8573a"/><rect x="12" y="10" width="2" height="1.02" fill="#d36a30"/><rect x="14" y="10" width="1" height="1.02" fill="#e08a28"/><rect x="15" y="10" width="4" height="1.02" fill="#d36a30"/><rect x="19" y="10" width="3" height="1.02" fill="#eab522"/><rect x="22" y="10" width="3" height="1.02" fill="#a6e01e"/><rect x="25" y="10" width="2" height="1.02" fill="#2cc43a"/><rect x="27" y="10" width="1" height="1.02" fill="#eab522"/><rect x="28" y="10" width="7" height="1.02" fill="#2cc43a"/><rect x="0" y="11" width="3" height="1.02" fill="#d36a30"/><rect x="3" y="11" width="8" height="1.02" fill="#c8573a"/><rect x="11" y="11" width="2" height="1.02" fill="#d36a30"/><rect x="13" y="11" width="2" height="1.02" fill="#eab522"/><rect x="15" y="11" width="1" height="1.02" fill="#d36a30"/><rect x="16" y="11" width="1" height="1.02" fill="#eab522"/><rect x="17" y="11" width="1" height="1.02" fill="#e08a28"/><rect x="18" y="11" width="1" height="1.02" fill="#eab522"/><rect x="19" y="11" width="1" height="1.02" fill="#a6e01e"/><rect x="20" y="11" width="5" height="1.02" fill="#2cc43a"/><rect x="25" y="11" width="1" height="1.02" fill="#2aa866"/><rect x="26" y="11" width="1" height="1.02" fill="#1f8c8a"/><rect x="27" y="11" width="3" height="1.02" fill="#2cc43a"/><rect x="30" y="11" width="2" height="1.02" fill="#1f8c8a"/><rect x="0" y="12" width="6" height="1.02" fill="#c8573a"/><rect x="6" y="12" width="4" height="1.02" fill="#d36a30"/><rect x="10" y="12" width="1" height="1.02" fill="#c8573a"/><rect x="11" y="12" width="2" height="1.02" fill="#d36a30"/><rect x="13" y="12" width="2" height="1.02" fill="#eab522"/><rect x="15" y="12" width="1" height="1.02" fill="#e08a28"/><rect x="16" y="12" width="1" height="1.02" fill="#d36a30"/><rect x="17" y="12" width="1" height="1.02" fill="#e08a28"/><rect x="18" y="12" width="1" height="1.02" fill="#eab522"/><rect x="19" y="12" width="1" height="1.02" fill="#2cc43a"/><rect x="20" y="12" width="1" height="1.02" fill="#2aa866"/><rect x="21" y="12" width="1" height="1.02" fill="#1f8c8a"/><rect x="22" y="12" width="1" height="1.02" fill="#2aa866"/><rect x="23" y="12" width="1" height="1.02" fill="#2cc43a"/><rect x="24" y="12" width="1" height="1.02" fill="#2aa866"/><rect x="25" y="12" width="1" height="1.02" fill="#1f8c8a"/><rect x="26" y="12" width="1" height="1.02" fill="#2aa866"/><rect x="27" y="12" width="1" height="1.02" fill="#2cc43a"/><rect x="28" y="12" width="1" height="1.02" fill="#2aa866"/><rect x="29" y="12" width="1" height="1.02" fill="#1f8c8a"/><rect x="30" y="12" width="1" height="1.02" fill="#2aa866"/><rect x="31" y="12" width="1" height="1.02" fill="#1f8c8a"/><rect x="0" y="13" width="3" height="1.02" fill="#e08a28"/><rect x="3" y="13" width="1" height="1.02" fill="#d36a30"/><rect x="4" y="13" width="2" height="1.02" fill="#c8573a"/><rect x="6" y="13" width="1" height="1.02" fill="#eab522"/><rect x="7" y="13" width="1" height="1.02" fill="#2cc43a"/><rect x="9" y="13" width="2" height="1.02" fill="#1e5a92"/><rect x="12" y="13" width="1" height="1.02" fill="#eab522"/><rect x="13" y="13" width="2" height="1.02" fill="#d36a30"/><rect x="15" y="13" width="1" height="1.02" fill="#c8573a"/><rect x="16" y="13" width="1" height="1.02" fill="#d36a30"/><rect x="17" y="13" width="1" height="1.02" fill="#e08a28"/><rect x="18" y="13" width="1" height="1.02" fill="#2cc43a"/><rect x="19" y="13" width="1" height="1.02" fill="#1e5a92"/><rect x="20" y="13" width="1" height="1.02" fill="#2aa866"/><rect x="21" y="13" width="1" height="1.02" fill="#1f8c8a"/><rect x="23" y="13" width="1" height="1.02" fill="#1f8c8a"/><rect x="24" y="13" width="2" height="1.02" fill="#2cc43a"/><rect x="26" y="13" width="3" height="1.02" fill="#2aa866"/><rect x="29" y="13" width="6" height="1.02" fill="#1f8c8a"/><rect x="0" y="14" width="3" height="1.02" fill="#1f8c8a"/><rect x="3" y="14" width="1" height="1.02" fill="#eab522"/><rect x="4" y="14" width="1" height="1.02" fill="#d36a30"/><rect x="5" y="14" width="2" height="1.02" fill="#c8573a"/><rect x="7" y="14" width="1" height="1.02" fill="#d36a30"/><rect x="8" y="14" width="1" height="1.02" fill="#1f8c8a"/><rect x="10" y="14" width="3" height="1.02" fill="#1e5a92"/><rect x="14" y="14" width="3" height="1.02" fill="#d36a30"/><rect x="17" y="14" width="1" height="1.02" fill="#e08a28"/><rect x="18" y="14" width="1" height="1.02" fill="#a6e01e"/><rect x="19" y="14" width="1" height="1.02" fill="#2cc43a"/><rect x="20" y="14" width="2" height="1.02" fill="#1f8c8a"/><rect x="23" y="14" width="1" height="1.02" fill="#1f8c8a"/><rect x="24" y="14" width="2" height="1.02" fill="#2cc43a"/><rect x="26" y="14" width="3" height="1.02" fill="#2aa866"/><rect x="29" y="14" width="6" height="1.02" fill="#1f8c8a"/><rect x="0" y="15" width="3" height="1.02" fill="#1f8c8a"/><rect x="3" y="15" width="1" height="1.02" fill="#eab522"/><rect x="4" y="15" width="1" height="1.02" fill="#d36a30"/><rect x="5" y="15" width="2" height="1.02" fill="#c8573a"/><rect x="7" y="15" width="1" height="1.02" fill="#d36a30"/><rect x="8" y="15" width="1" height="1.02" fill="#1f8c8a"/><rect x="10" y="15" width="3" height="1.02" fill="#1e5a92"/><rect x="14" y="15" width="3" height="1.02" fill="#d36a30"/><rect x="17" y="15" width="1" height="1.02" fill="#e08a28"/><rect x="18" y="15" width="1" height="1.02" fill="#a6e01e"/><rect x="19" y="15" width="1" height="1.02" fill="#2cc43a"/><rect x="20" y="15" width="2" height="1.02" fill="#1f8c8a"/><rect x="23" y="15" width="1" height="1.02" fill="#1f8c8a"/><rect x="24" y="15" width="2" height="1.02" fill="#2cc43a"/><rect x="26" y="15" width="3" height="1.02" fill="#2aa866"/><rect x="29" y="15" width="6" height="1.02" fill="#1f8c8a"/><rect x="0" y="16" width="3" height="1.02" fill="#1f8c8a"/><rect x="3" y="16" width="1" height="1.02" fill="#eab522"/><rect x="4" y="16" width="1" height="1.02" fill="#d36a30"/><rect x="5" y="16" width="2" height="1.02" fill="#c8573a"/><rect x="7" y="16" width="1" height="1.02" fill="#d36a30"/><rect x="8" y="16" width="1" height="1.02" fill="#1f8c8a"/><rect x="10" y="16" width="3" height="1.02" fill="#1e5a92"/><rect x="14" y="16" width="3" height="1.02" fill="#d36a30"/><rect x="17" y="16" width="1" height="1.02" fill="#e08a28"/><rect x="18" y="16" width="1" height="1.02" fill="#a6e01e"/><rect x="19" y="16" width="1" height="1.02" fill="#2cc43a"/><rect x="20" y="16" width="2" height="1.02" fill="#1f8c8a"/><rect x="23" y="16" width="1" height="1.02" fill="#1f8c8a"/><rect x="24" y="16" width="2" height="1.02" fill="#2cc43a"/><rect x="26" y="16" width="3" height="1.02" fill="#2aa866"/><rect x="29" y="16" width="6" height="1.02" fill="#1f8c8a"/></g></svg><svg style="position:absolute;left:0;top:0" width="620" height="267.0"><line x1="282" y1="32.3" x2="352" y2="-1.8" stroke="#c8dc2c" stroke-width="10" stroke-opacity="0.85"/><line x1="294" y1="26.2" x2="351" y2="-1.5" stroke="#cc4f2e" stroke-width="6"/><polygon points="523.8,215.3 533.1,206.0 544.8,203.6 551.7,203.6 558.7,210.6 561.1,215.3 551.7,220.0 549.4,229.3 554.1,235.1 563.4,231.6 579.7,224.6 598.4,223.5 610.0,227.0 612.4,234.0 612.4,252.6 622.0,254.9 622.0,269.0 509.8,269.0 509.8,259.6 505.1,252.6 486.5,247.9 486.5,231.6 509.8,230.5 516.8,223.5" fill="#c8573a" stroke="#e6d024" stroke-width="4" stroke-linejoin="round" paint-order="stroke"/><ellipse cx="549" cy="268.0" rx="20" ry="7.5" fill="#36b84c" stroke="#e6d024" stroke-width="2"/><circle cx="356.5" cy="231" r="6.5" fill="#2a8a7a" stroke="#1b3f8c" stroke-width="4.5"/><line x1="38.5" y1="0" x2="38.5" y2="267.0" stroke="#555" stroke-opacity="0.12" stroke-width="1"/><line x1="200.2" y1="0" x2="200.2" y2="267.0" stroke="#555" stroke-opacity="0.12" stroke-width="1"/><line x1="361.9" y1="0" x2="361.9" y2="267.0" stroke="#555" stroke-opacity="0.12" stroke-width="1"/><line x1="523.6" y1="0" x2="523.6" y2="267.0" stroke="#555" stroke-opacity="0.12" stroke-width="1"/><line x1="0" y1="57.5" x2="620" y2="57.5" stroke="#555" stroke-opacity="0.12" stroke-width="1"/><line x1="0" y1="218.5" x2="620" y2="218.5" stroke="#555" stroke-opacity="0.12" stroke-width="1"/></svg></div><div style="position:absolute;left:692px;top:333.5px;width:622px;height:267.0px;overflow:hidden"><svg style="position:absolute;left:-40.13px;top:-41.08px" width="702.26" height="349.15" viewBox="0 0 35 17" preserveAspectRatio="none"><defs><filter id="f3" x="-0.1" y="-0.1" width="1.2" height="1.2" color-interpolation-filters="sRGB"><feGaussianBlur stdDeviation="0.3"/></filter></defs><g filter="url(#f3)" shape-rendering="crispEdges"><rect width="35" height="17" fill="#226f8e"/><rect x="3" y="0" width="1" height="1.02" fill="#1f8c8a"/><rect x="4" y="0" width="1" height="1.02" fill="#2cc43a"/><rect x="5" y="0" width="1" height="1.02" fill="#1e5a92"/><rect x="15" y="0" width="1" height="1.02" fill="#1e5a92"/><rect x="19" y="0" width="1" height="1.02" fill="#1f8c8a"/><rect x="21" y="0" width="1" height="1.02" fill="#1e5a92"/><rect x="3" y="1" width="1" height="1.02" fill="#1f8c8a"/><rect x="4" y="1" width="1" height="1.02" fill="#2cc43a"/><rect x="5" y="1" width="1" height="1.02" fill="#1e5a92"/><rect x="15" y="1" width="1" height="1.02" fill="#1e5a92"/><rect x="19" y="1" width="1" height="1.02" fill="#1f8c8a"/><rect x="21" y="1" width="1" height="1.02" fill="#1e5a92"/><rect x="3" y="2" width="1" height="1.02" fill="#1f8c8a"/><rect x="4" y="2" width="1" height="1.02" fill="#2cc43a"/><rect x="5" y="2" width="1" height="1.02" fill="#1e5a92"/><rect x="15" y="2" width="1" height="1.02" fill="#1e5a92"/><rect x="19" y="2" width="1" height="1.02" fill="#1f8c8a"/><rect x="21" y="2" width="1" height="1.02" fill="#1e5a92"/><rect x="24" y="3" width="1" height="1.02" fill="#1e5a92"/><rect x="3" y="4" width="1" height="1.02" fill="#2aa866"/><rect x="4" y="4" width="1" height="1.02" fill="#d36a30"/><rect x="5" y="4" width="1" height="1.02" fill="#e08a28"/><rect x="6" y="4" width="1" height="1.02" fill="#eab522"/><rect x="7" y="4" width="1" height="1.02" fill="#2aa866"/><rect x="8" y="4" width="1" height="1.02" fill="#2cc43a"/><rect x="9" y="4" width="2" height="1.02" fill="#2aa866"/><rect x="11" y="4" width="3" height="1.02" fill="#2cc43a"/><rect x="14" y="4" width="1" height="1.02" fill="#1f8c8a"/><rect x="16" y="4" width="1" height="1.02" fill="#1f8c8a"/><rect x="17" y="4" width="1" height="1.02" fill="#2aa866"/><rect x="22" y="4" width="1" height="1.02" fill="#1f8c8a"/><rect x="23" y="4" width="2" height="1.02" fill="#eab522"/><rect x="25" y="4" width="1" height="1.02" fill="#d36a30"/><rect x="26" y="4" width="1" height="1.02" fill="#eab522"/><rect x="27" y="4" width="1" height="1.02" fill="#2cc43a"/><rect x="28" y="4" width="1" height="1.02" fill="#1f8c8a"/><rect x="0" y="5" width="3" height="1.02" fill="#1f8c8a"/><rect x="3" y="5" width="2" height="1.02" fill="#d36a30"/><rect x="5" y="5" width="1" height="1.02" fill="#eab522"/><rect x="6" y="5" width="3" height="1.02" fill="#d36a30"/><rect x="9" y="5" width="1" height="1.02" fill="#a6e01e"/><rect x="10" y="5" width="1" height="1.02" fill="#eab522"/><rect x="11" y="5" width="1" height="1.02" fill="#1f8c8a"/><rect x="12" y="5" width="1" height="1.02" fill="#2aa866"/><rect x="13" y="5" width="1" height="1.02" fill="#2cc43a"/><rect x="14" y="5" width="2" height="1.02" fill="#a6e01e"/><rect x="16" y="5" width="2" height="1.02" fill="#2cc43a"/><rect x="18" y="5" width="2" height="1.02" fill="#1e5a92"/><rect x="20" y="5" width="1" height="1.02" fill="#2aa866"/><rect x="21" y="5" width="1" height="1.02" fill="#a6e01e"/><rect x="22" y="5" width="3" height="1.02" fill="#eab522"/><rect x="25" y="5" width="1" height="1.02" fill="#e08a28"/><rect x="26" y="5" width="1" height="1.02" fill="#d36a30"/><rect x="27" y="5" width="1" height="1.02" fill="#eab522"/><rect x="28" y="5" width="1" height="1.02" fill="#1f8c8a"/><rect x="4" y="6" width="2" height="1.02" fill="#eab522"/><rect x="6" y="6" width="3" height="1.02" fill="#d36a30"/><rect x="9" y="6" width="1" height="1.02" fill="#e08a28"/><rect x="10" y="6" width="2" height="1.02" fill="#1f8c8a"/><rect x="12" y="6" width="1" height="1.02" fill="#2aa866"/><rect x="13" y="6" width="1" height="1.02" fill="#a6e01e"/><rect x="14" y="6" width="1" height="1.02" fill="#eab522"/><rect x="15" y="6" width="1" height="1.02" fill="#a6e01e"/><rect x="16" y="6" width="2" height="1.02" fill="#eab522"/><rect x="18" y="6" width="2" height="1.02" fill="#2cc43a"/><rect x="20" y="6" width="2" height="1.02" fill="#a6e01e"/><rect x="22" y="6" width="1" height="1.02" fill="#2cc43a"/><rect x="23" y="6" width="2" height="1.02" fill="#a6e01e"/><rect x="25" y="6" width="2" height="1.02" fill="#eab522"/><rect x="27" y="6" width="1" height="1.02" fill="#a6e01e"/><rect x="28" y="6" width="2" height="1.02" fill="#1f8c8a"/><rect x="30" y="6" width="1" height="1.02" fill="#2cc43a"/><rect x="31" y="6" width="1" height="1.02" fill="#e08a28"/><rect x="32" y="6" width="3" height="1.02" fill="#1f8c8a"/><rect x="0" y="7" width="3" height="1.02" fill="#d36a30"/><rect x="3" y="7" width="1" height="1.02" fill="#e08a28"/><rect x="4" y="7" width="1" height="1.02" fill="#d36a30"/><rect x="5" y="7" width="1" height="1.02" fill="#eab522"/><rect x="6" y="7" width="1" height="1.02" fill="#e08a28"/><rect x="7" y="7" width="2" height="1.02" fill="#d36a30"/><rect x="9" y="7" width="1" height="1.02" fill="#e08a28"/><rect x="10" y="7" width="2" height="1.02" fill="#eab522"/><rect x="12" y="7" width="1" height="1.02" fill="#2aa866"/><rect x="13" y="7" width="1" height="1.02" fill="#2cc43a"/><rect x="14" y="7" width="1" height="1.02" fill="#eab522"/><rect x="15" y="7" width="1" height="1.02" fill="#a6e01e"/><rect x="16" y="7" width="1" height="1.02" fill="#eab522"/><rect x="17" y="7" width="1" height="1.02" fill="#e08a28"/><rect x="18" y="7" width="1" height="1.02" fill="#eab522"/><rect x="19" y="7" width="1" height="1.02" fill="#e08a28"/><rect x="20" y="7" width="1" height="1.02" fill="#d36a30"/><rect x="21" y="7" width="1" height="1.02" fill="#a6e01e"/><rect x="22" y="7" width="3" height="1.02" fill="#2cc43a"/><rect x="25" y="7" width="1" height="1.02" fill="#a6e01e"/><rect x="26" y="7" width="2" height="1.02" fill="#eab522"/><rect x="28" y="7" width="2" height="1.02" fill="#2cc43a"/><rect x="30" y="7" width="1" height="1.02" fill="#a6e01e"/><rect x="31" y="7" width="1" height="1.02" fill="#eab522"/><rect x="0" y="8" width="3" height="1.02" fill="#e08a28"/><rect x="3" y="8" width="1" height="1.02" fill="#d36a30"/><rect x="4" y="8" width="1" height="1.02" fill="#e08a28"/><rect x="5" y="8" width="3" height="1.02" fill="#d36a30"/><rect x="8" y="8" width="1" height="1.02" fill="#e08a28"/><rect x="9" y="8" width="1" height="1.02" fill="#c8573a"/><rect x="10" y="8" width="10" height="1.02" fill="#d36a30"/><rect x="20" y="8" width="1" height="1.02" fill="#e08a28"/><rect x="21" y="8" width="1" height="1.02" fill="#eab522"/><rect x="22" y="8" width="1" height="1.02" fill="#a6e01e"/><rect x="23" y="8" width="1" height="1.02" fill="#2cc43a"/><rect x="24" y="8" width="2" height="1.02" fill="#eab522"/><rect x="26" y="8" width="1" height="1.02" fill="#e08a28"/><rect x="27" y="8" width="1" height="1.02" fill="#eab522"/><rect x="28" y="8" width="1" height="1.02" fill="#a6e01e"/><rect x="29" y="8" width="3" height="1.02" fill="#1f8c8a"/><rect x="32" y="8" width="3" height="1.02" fill="#e08a28"/><rect x="0" y="9" width="3" height="1.02" fill="#2cc43a"/><rect x="3" y="9" width="1" height="1.02" fill="#1e5a92"/><rect x="4" y="9" width="1" height="1.02" fill="#eab522"/><rect x="5" y="9" width="1" height="1.02" fill="#d36a30"/><rect x="6" y="9" width="1" height="1.02" fill="#eab522"/><rect x="7" y="9" width="2" height="1.02" fill="#d36a30"/><rect x="9" y="9" width="1" height="1.02" fill="#c8573a"/><rect x="10" y="9" width="1" height="1.02" fill="#d36a30"/><rect x="11" y="9" width="1" height="1.02" fill="#c8573a"/><rect x="12" y="9" width="1" height="1.02" fill="#d36a30"/><rect x="13" y="9" width="1" height="1.02" fill="#eab522"/><rect x="14" y="9" width="2" height="1.02" fill="#e08a28"/><rect x="16" y="9" width="3" height="1.02" fill="#d36a30"/><rect x="19" y="9" width="1" height="1.02" fill="#e08a28"/><rect x="20" y="9" width="2" height="1.02" fill="#eab522"/><rect x="22" y="9" width="2" height="1.02" fill="#d36a30"/><rect x="24" y="9" width="5" height="1.02" fill="#eab522"/><rect x="29" y="9" width="3" height="1.02" fill="#a6e01e"/><rect x="32" y="9" width="3" height="1.02" fill="#2cc43a"/><rect x="0" y="10" width="3" height="1.02" fill="#eab522"/><rect x="3" y="10" width="1" height="1.02" fill="#e08a28"/><rect x="4" y="10" width="1" height="1.02" fill="#d36a30"/><rect x="5" y="10" width="1" height="1.02" fill="#c8573a"/><rect x="6" y="10" width="1" height="1.02" fill="#e08a28"/><rect x="7" y="10" width="1" height="1.02" fill="#d36a30"/><rect x="8" y="10" width="4" height="1.02" fill="#c8573a"/><rect x="12" y="10" width="2" height="1.02" fill="#d36a30"/><rect x="14" y="10" width="1" height="1.02" fill="#e08a28"/><rect x="15" y="10" width="5" height="1.02" fill="#d36a30"/><rect x="20" y="10" width="1" height="1.02" fill="#eab522"/><rect x="21" y="10" width="1" height="1.02" fill="#e08a28"/><rect x="22" y="10" width="3" height="1.02" fill="#eab522"/><rect x="25" y="10" width="1" height="1.02" fill="#a6e01e"/><rect x="26" y="10" width="1" height="1.02" fill="#eab522"/><rect x="27" y="10" width="1" height="1.02" fill="#d36a30"/><rect x="28" y="10" width="1" height="1.02" fill="#e08a28"/><rect x="29" y="10" width="1" height="1.02" fill="#a6e01e"/><rect x="30" y="10" width="5" height="1.02" fill="#2cc43a"/><rect x="0" y="11" width="3" height="1.02" fill="#d36a30"/><rect x="3" y="11" width="8" height="1.02" fill="#c8573a"/><rect x="11" y="11" width="2" height="1.02" fill="#d36a30"/><rect x="13" y="11" width="1" height="1.02" fill="#e08a28"/><rect x="14" y="11" width="4" height="1.02" fill="#d36a30"/><rect x="18" y="11" width="1" height="1.02" fill="#eab522"/><rect x="19" y="11" width="3" height="1.02" fill="#a6e01e"/><rect x="22" y="11" width="3" height="1.02" fill="#2cc43a"/><rect x="25" y="11" width="3" height="1.02" fill="#a6e01e"/><rect x="28" y="11" width="3" height="1.02" fill="#2cc43a"/><rect x="31" y="11" width="4" height="1.02" fill="#1f8c8a"/><rect x="0" y="12" width="6" height="1.02" fill="#c8573a"/><rect x="6" y="12" width="7" height="1.02" fill="#d36a30"/><rect x="13" y="12" width="2" height="1.02" fill="#eab522"/><rect x="15" y="12" width="1" height="1.02" fill="#e08a28"/><rect x="16" y="12" width="2" height="1.02" fill="#d36a30"/><rect x="18" y="12" width="1" height="1.02" fill="#eab522"/><rect x="19" y="12" width="2" height="1.02" fill="#a6e01e"/><rect x="21" y="12" width="7" height="1.02" fill="#2cc43a"/><rect x="28" y="12" width="1" height="1.02" fill="#2aa866"/><rect x="29" y="12" width="1" height="1.02" fill="#1f8c8a"/><rect x="30" y="12" width="1" height="1.02" fill="#2cc43a"/><rect x="31" y="12" width="4" height="1.02" fill="#1f8c8a"/><rect x="0" y="13" width="4" height="1.02" fill="#d36a30"/><rect x="4" y="13" width="2" height="1.02" fill="#c8573a"/><rect x="6" y="13" width="1" height="1.02" fill="#eab522"/><rect x="7" y="13" width="1" height="1.02" fill="#2cc43a"/><rect x="9" y="13" width="2" height="1.02" fill="#1e5a92"/><rect x="12" y="13" width="4" height="1.02" fill="#d36a30"/><rect x="16" y="13" width="1" height="1.02" fill="#e08a28"/><rect x="17" y="13" width="1" height="1.02" fill="#d36a30"/><rect x="18" y="13" width="1" height="1.02" fill="#eab522"/><rect x="19" y="13" width="1" height="1.02" fill="#1e5a92"/><rect x="20" y="13" width="6" height="1.02" fill="#2cc43a"/><rect x="26" y="13" width="3" height="1.02" fill="#2aa866"/><rect x="29" y="13" width="6" height="1.02" fill="#1f8c8a"/><rect x="0" y="14" width="3" height="1.02" fill="#2cc43a"/><rect x="3" y="14" width="1" height="1.02" fill="#eab522"/><rect x="4" y="14" width="2" height="1.02" fill="#c8573a"/><rect x="6" y="14" width="1" height="1.02" fill="#d36a30"/><rect x="7" y="14" width="1" height="1.02" fill="#e08a28"/><rect x="8" y="14" width="1" height="1.02" fill="#1f8c8a"/><rect x="10" y="14" width="3" height="1.02" fill="#1e5a92"/><rect x="14" y="14" width="3" height="1.02" fill="#d36a30"/><rect x="17" y="14" width="1" height="1.02" fill="#e08a28"/><rect x="18" y="14" width="1" height="1.02" fill="#eab522"/><rect x="19" y="14" width="6" height="1.02" fill="#2cc43a"/><rect x="25" y="14" width="1" height="1.02" fill="#a6e01e"/><rect x="26" y="14" width="3" height="1.02" fill="#2aa866"/><rect x="29" y="14" width="6" height="1.02" fill="#1f8c8a"/><rect x="0" y="15" width="3" height="1.02" fill="#2cc43a"/><rect x="3" y="15" width="1" height="1.02" fill="#eab522"/><rect x="4" y="15" width="2" height="1.02" fill="#c8573a"/><rect x="6" y="15" width="1" height="1.02" fill="#d36a30"/><rect x="7" y="15" width="1" height="1.02" fill="#e08a28"/><rect x="8" y="15" width="1" height="1.02" fill="#1f8c8a"/><rect x="10" y="15" width="3" height="1.02" fill="#1e5a92"/><rect x="14" y="15" width="3" height="1.02" fill="#d36a30"/><rect x="17" y="15" width="1" height="1.02" fill="#e08a28"/><rect x="18" y="15" width="1" height="1.02" fill="#eab522"/><rect x="19" y="15" width="6" height="1.02" fill="#2cc43a"/><rect x="25" y="15" width="1" height="1.02" fill="#a6e01e"/><rect x="26" y="15" width="3" height="1.02" fill="#2aa866"/><rect x="29" y="15" width="6" height="1.02" fill="#1f8c8a"/><rect x="0" y="16" width="3" height="1.02" fill="#2cc43a"/><rect x="3" y="16" width="1" height="1.02" fill="#eab522"/><rect x="4" y="16" width="2" height="1.02" fill="#c8573a"/><rect x="6" y="16" width="1" height="1.02" fill="#d36a30"/><rect x="7" y="16" width="1" height="1.02" fill="#e08a28"/><rect x="8" y="16" width="1" height="1.02" fill="#1f8c8a"/><rect x="10" y="16" width="3" height="1.02" fill="#1e5a92"/><rect x="14" y="16" width="3" height="1.02" fill="#d36a30"/><rect x="17" y="16" width="1" height="1.02" fill="#e08a28"/><rect x="18" y="16" width="1" height="1.02" fill="#eab522"/><rect x="19" y="16" width="6" height="1.02" fill="#2cc43a"/><rect x="25" y="16" width="1" height="1.02" fill="#a6e01e"/><rect x="26" y="16" width="3" height="1.02" fill="#2aa866"/><rect x="29" y="16" width="6" height="1.02" fill="#1f8c8a"/></g></svg><svg style="position:absolute;left:0;top:0" width="622" height="267.0"><line x1="282" y1="32.3" x2="352" y2="-1.8" stroke="#c8dc2c" stroke-width="10" stroke-opacity="0.85"/><line x1="294" y1="26.2" x2="351" y2="-1.5" stroke="#cc4f2e" stroke-width="6"/><polygon points="523.8,215.3 533.1,206.0 544.8,203.6 551.7,203.6 558.7,210.6 561.1,215.3 551.7,220.0 549.4,229.3 554.1,235.1 563.4,231.6 579.7,224.6 598.4,223.5 610.0,227.0 612.4,234.0 612.4,252.6 624.0,254.9 624.0,269.0 509.8,269.0 509.8,259.6 505.1,252.6 486.5,247.9 486.5,231.6 509.8,230.5 516.8,223.5" fill="#c8573a" stroke="#e6d024" stroke-width="4" stroke-linejoin="round" paint-order="stroke"/><ellipse cx="549" cy="268.0" rx="20" ry="7.5" fill="#36b84c" stroke="#e6d024" stroke-width="2"/><circle cx="356.5" cy="231" r="6.5" fill="#2a8a7a" stroke="#1b3f8c" stroke-width="4.5"/><line x1="38.5" y1="0" x2="38.5" y2="267.0" stroke="#555" stroke-opacity="0.12" stroke-width="1"/><line x1="200.2" y1="0" x2="200.2" y2="267.0" stroke="#555" stroke-opacity="0.12" stroke-width="1"/><line x1="361.9" y1="0" x2="361.9" y2="267.0" stroke="#555" stroke-opacity="0.12" stroke-width="1"/><line x1="523.6" y1="0" x2="523.6" y2="267.0" stroke="#555" stroke-opacity="0.12" stroke-width="1"/><line x1="0" y1="57.5" x2="622" y2="57.5" stroke="#555" stroke-opacity="0.12" stroke-width="1"/><line x1="0" y1="218.5" x2="622" y2="218.5" stroke="#555" stroke-opacity="0.12" stroke-width="1"/></svg></div><div style="position:absolute;left:69px;top:602.5px;width:620px;height:266.5px;overflow:hidden"><svg style="position:absolute;left:-40.00px;top:-41.00px" width="700.00" height="348.50" viewBox="0 0 35 17" preserveAspectRatio="none"><defs><filter id="f4" x="-0.1" y="-0.1" width="1.2" height="1.2" color-interpolation-filters="sRGB"><feGaussianBlur stdDeviation="0.3"/></filter></defs><g filter="url(#f4)" shape-rendering="crispEdges"><rect width="35" height="17" fill="#226f8e"/><rect x="0" y="0" width="3" height="1.02" fill="#1f8c8a"/><rect x="4" y="0" width="1" height="1.02" fill="#2cc43a"/><rect x="5" y="0" width="1" height="1.02" fill="#1e5a92"/><rect x="15" y="0" width="1" height="1.02" fill="#1e5a92"/><rect x="21" y="0" width="1" height="1.02" fill="#1e5a92"/><rect x="0" y="1" width="3" height="1.02" fill="#1f8c8a"/><rect x="4" y="1" width="1" height="1.02" fill="#2cc43a"/><rect x="5" y="1" width="1" height="1.02" fill="#1e5a92"/><rect x="15" y="1" width="1" height="1.02" fill="#1e5a92"/><rect x="21" y="1" width="1" height="1.02" fill="#1e5a92"/><rect x="0" y="2" width="3" height="1.02" fill="#1f8c8a"/><rect x="4" y="2" width="1" height="1.02" fill="#2cc43a"/><rect x="5" y="2" width="1" height="1.02" fill="#1e5a92"/><rect x="15" y="2" width="1" height="1.02" fill="#1e5a92"/><rect x="21" y="2" width="1" height="1.02" fill="#1e5a92"/><rect x="24" y="3" width="1" height="1.02" fill="#1e5a92"/><rect x="3" y="4" width="1" height="1.02" fill="#2cc43a"/><rect x="4" y="4" width="1" height="1.02" fill="#e08a28"/><rect x="5" y="4" width="2" height="1.02" fill="#2aa866"/><rect x="7" y="4" width="2" height="1.02" fill="#2cc43a"/><rect x="9" y="4" width="1" height="1.02" fill="#2aa866"/><rect x="10" y="4" width="2" height="1.02" fill="#1f8c8a"/><rect x="14" y="4" width="1" height="1.02" fill="#1f8c8a"/><rect x="15" y="4" width="1" height="1.02" fill="#2aa866"/><rect x="16" y="4" width="2" height="1.02" fill="#2cc43a"/><rect x="21" y="4" width="1" height="1.02" fill="#1e5a92"/><rect x="22" y="4" width="3" height="1.02" fill="#2cc43a"/><rect x="25" y="4" width="2" height="1.02" fill="#a6e01e"/><rect x="27" y="4" width="1" height="1.02" fill="#2aa866"/><rect x="0" y="5" width="3" height="1.02" fill="#1f8c8a"/><rect x="3" y="5" width="2" height="1.02" fill="#e08a28"/><rect x="5" y="5" width="1" height="1.02" fill="#eab522"/><rect x="6" y="5" width="2" height="1.02" fill="#d36a30"/><rect x="8" y="5" width="1" height="1.02" fill="#e08a28"/><rect x="9" y="5" width="1" height="1.02" fill="#a6e01e"/><rect x="10" y="5" width="1" height="1.02" fill="#2aa866"/><rect x="11" y="5" width="1" height="1.02" fill="#1f8c8a"/><rect x="13" y="5" width="1" height="1.02" fill="#2aa866"/><rect x="14" y="5" width="1" height="1.02" fill="#2cc43a"/><rect x="15" y="5" width="3" height="1.02" fill="#a6e01e"/><rect x="20" y="5" width="1" height="1.02" fill="#2aa866"/><rect x="21" y="5" width="4" height="1.02" fill="#2cc43a"/><rect x="25" y="5" width="2" height="1.02" fill="#a6e01e"/><rect x="27" y="5" width="1" height="1.02" fill="#2cc43a"/><rect x="28" y="5" width="1" height="1.02" fill="#1f8c8a"/><rect x="0" y="6" width="3" height="1.02" fill="#2aa866"/><rect x="3" y="6" width="1" height="1.02" fill="#1f8c8a"/><rect x="4" y="6" width="2" height="1.02" fill="#a6e01e"/><rect x="6" y="6" width="3" height="1.02" fill="#d36a30"/><rect x="9" y="6" width="1" height="1.02" fill="#a6e01e"/><rect x="10" y="6" width="1" height="1.02" fill="#2aa866"/><rect x="11" y="6" width="1" height="1.02" fill="#1f8c8a"/><rect x="13" y="6" width="1" height="1.02" fill="#2aa866"/><rect x="14" y="6" width="1" height="1.02" fill="#2cc43a"/><rect x="15" y="6" width="3" height="1.02" fill="#a6e01e"/><rect x="18" y="6" width="7" height="1.02" fill="#2cc43a"/><rect x="25" y="6" width="1" height="1.02" fill="#a6e01e"/><rect x="26" y="6" width="1" height="1.02" fill="#2cc43a"/><rect x="27" y="6" width="1" height="1.02" fill="#2aa866"/><rect x="28" y="6" width="1" height="1.02" fill="#2cc43a"/><rect x="29" y="6" width="2" height="1.02" fill="#1f8c8a"/><rect x="32" y="6" width="3" height="1.02" fill="#1e5a92"/><rect x="0" y="7" width="3" height="1.02" fill="#e08a28"/><rect x="3" y="7" width="1" height="1.02" fill="#d36a30"/><rect x="4" y="7" width="1" height="1.02" fill="#e08a28"/><rect x="5" y="7" width="1" height="1.02" fill="#a6e01e"/><rect x="6" y="7" width="1" height="1.02" fill="#d36a30"/><rect x="7" y="7" width="1" height="1.02" fill="#e08a28"/><rect x="8" y="7" width="1" height="1.02" fill="#d36a30"/><rect x="9" y="7" width="1" height="1.02" fill="#e08a28"/><rect x="10" y="7" width="1" height="1.02" fill="#a6e01e"/><rect x="11" y="7" width="5" height="1.02" fill="#2cc43a"/><rect x="16" y="7" width="2" height="1.02" fill="#a6e01e"/><rect x="18" y="7" width="2" height="1.02" fill="#2cc43a"/><rect x="20" y="7" width="1" height="1.02" fill="#a6e01e"/><rect x="21" y="7" width="8" height="1.02" fill="#2cc43a"/><rect x="29" y="7" width="2" height="1.02" fill="#1f8c8a"/><rect x="32" y="7" width="3" height="1.02" fill="#1e5a92"/><rect x="0" y="8" width="3" height="1.02" fill="#e08a28"/><rect x="3" y="8" width="1" height="1.02" fill="#d36a30"/><rect x="4" y="8" width="1" height="1.02" fill="#e08a28"/><rect x="5" y="8" width="2" height="1.02" fill="#d36a30"/><rect x="7" y="8" width="1" height="1.02" fill="#e08a28"/><rect x="8" y="8" width="1" height="1.02" fill="#d36a30"/><rect x="9" y="8" width="1" height="1.02" fill="#e08a28"/><rect x="10" y="8" width="3" height="1.02" fill="#d36a30"/><rect x="13" y="8" width="1" height="1.02" fill="#e08a28"/><rect x="14" y="8" width="5" height="1.02" fill="#d36a30"/><rect x="19" y="8" width="1" height="1.02" fill="#e08a28"/><rect x="20" y="8" width="1" height="1.02" fill="#a6e01e"/><rect x="21" y="8" width="8" height="1.02" fill="#2cc43a"/><rect x="29" y="8" width="1" height="1.02" fill="#1f8c8a"/><rect x="32" y="8" width="3" height="1.02" fill="#1f8c8a"/><rect x="0" y="9" width="3" height="1.02" fill="#2cc43a"/><rect x="3" y="9" width="1" height="1.02" fill="#1e5a92"/><rect x="4" y="9" width="1" height="1.02" fill="#eab522"/><rect x="5" y="9" width="1" height="1.02" fill="#d36a30"/><rect x="6" y="9" width="1" height="1.02" fill="#eab522"/><rect x="7" y="9" width="2" height="1.02" fill="#d36a30"/><rect x="9" y="9" width="1" height="1.02" fill="#c8573a"/><rect x="10" y="9" width="1" height="1.02" fill="#d36a30"/><rect x="11" y="9" width="1" height="1.02" fill="#c8573a"/><rect x="12" y="9" width="1" height="1.02" fill="#d36a30"/><rect x="13" y="9" width="1" height="1.02" fill="#eab522"/><rect x="14" y="9" width="1" height="1.02" fill="#e08a28"/><rect x="15" y="9" width="1" height="1.02" fill="#eab522"/><rect x="16" y="9" width="1" height="1.02" fill="#d36a30"/><rect x="17" y="9" width="1" height="1.02" fill="#e08a28"/><rect x="18" y="9" width="1" height="1.02" fill="#d36a30"/><rect x="19" y="9" width="1" height="1.02" fill="#eab522"/><rect x="20" y="9" width="3" height="1.02" fill="#a6e01e"/><rect x="23" y="9" width="8" height="1.02" fill="#2cc43a"/><rect x="31" y="9" width="4" height="1.02" fill="#1f8c8a"/><rect x="0" y="10" width="3" height="1.02" fill="#eab522"/><rect x="3" y="10" width="2" height="1.02" fill="#d36a30"/><rect x="5" y="10" width="1" height="1.02" fill="#c8573a"/><rect x="6" y="10" width="1" height="1.02" fill="#e08a28"/><rect x="7" y="10" width="1" height="1.02" fill="#d36a30"/><rect x="8" y="10" width="4" height="1.02" fill="#c8573a"/><rect x="12" y="10" width="1" height="1.02" fill="#d36a30"/><rect x="13" y="10" width="1" height="1.02" fill="#e08a28"/><rect x="14" y="10" width="5" height="1.02" fill="#d36a30"/><rect x="19" y="10" width="1" height="1.02" fill="#eab522"/><rect x="20" y="10" width="4" height="1.02" fill="#a6e01e"/><rect x="24" y="10" width="3" height="1.02" fill="#2cc43a"/><rect x="27" y="10" width="1" height="1.02" fill="#a6e01e"/><rect x="28" y="10" width="3" height="1.02" fill="#2cc43a"/><rect x="31" y="10" width="4" height="1.02" fill="#1f8c8a"/><rect x="0" y="11" width="3" height="1.02" fill="#d36a30"/><rect x="3" y="11" width="8" height="1.02" fill="#c8573a"/><rect x="11" y="11" width="2" height="1.02" fill="#d36a30"/><rect x="13" y="11" width="1" height="1.02" fill="#e08a28"/><rect x="14" y="11" width="1" height="1.02" fill="#eab522"/><rect x="15" y="11" width="1" height="1.02" fill="#d36a30"/><rect x="16" y="11" width="1" height="1.02" fill="#e08a28"/><rect x="17" y="11" width="1" height="1.02" fill="#d36a30"/><rect x="18" y="11" width="1" height="1.02" fill="#eab522"/><rect x="19" y="11" width="3" height="1.02" fill="#2cc43a"/><rect x="22" y="11" width="1" height="1.02" fill="#a6e01e"/><rect x="23" y="11" width="2" height="1.02" fill="#2cc43a"/><rect x="25" y="11" width="1" height="1.02" fill="#2aa866"/><rect x="26" y="11" width="1" height="1.02" fill="#2cc43a"/><rect x="27" y="11" width="1" height="1.02" fill="#a6e01e"/><rect x="28" y="11" width="2" height="1.02" fill="#2cc43a"/><rect x="30" y="11" width="2" height="1.02" fill="#1f8c8a"/><rect x="0" y="12" width="6" height="1.02" fill="#c8573a"/><rect x="6" y="12" width="4" height="1.02" fill="#d36a30"/><rect x="10" y="12" width="1" height="1.02" fill="#c8573a"/><rect x="11" y="12" width="2" height="1.02" fill="#d36a30"/><rect x="13" y="12" width="2" height="1.02" fill="#eab522"/><rect x="15" y="12" width="2" height="1.02" fill="#d36a30"/><rect x="17" y="12" width="1" height="1.02" fill="#eab522"/><rect x="18" y="12" width="1" height="1.02" fill="#a6e01e"/><rect x="19" y="12" width="2" height="1.02" fill="#2cc43a"/><rect x="21" y="12" width="5" height="1.02" fill="#1f8c8a"/><rect x="26" y="12" width="2" height="1.02" fill="#2cc43a"/><rect x="28" y="12" width="1" height="1.02" fill="#2aa866"/><rect x="29" y="12" width="1" height="1.02" fill="#1f8c8a"/><rect x="30" y="12" width="1" height="1.02" fill="#2cc43a"/><rect x="31" y="12" width="1" height="1.02" fill="#1f8c8a"/><rect x="0" y="13" width="3" height="1.02" fill="#e08a28"/><rect x="3" y="13" width="1" height="1.02" fill="#d36a30"/><rect x="4" y="13" width="2" height="1.02" fill="#c8573a"/><rect x="6" y="13" width="1" height="1.02" fill="#eab522"/><rect x="7" y="13" width="1" height="1.02" fill="#2cc43a"/><rect x="9" y="13" width="2" height="1.02" fill="#1e5a92"/><rect x="12" y="13" width="1" height="1.02" fill="#eab522"/><rect x="13" y="13" width="4" height="1.02" fill="#d36a30"/><rect x="17" y="13" width="1" height="1.02" fill="#e08a28"/><rect x="18" y="13" width="1" height="1.02" fill="#2cc43a"/><rect x="19" y="13" width="1" height="1.02" fill="#1e5a92"/><rect x="20" y="13" width="1" height="1.02" fill="#2cc43a"/><rect x="21" y="13" width="4" height="1.02" fill="#1f8c8a"/><rect x="25" y="13" width="1" height="1.02" fill="#2cc43a"/><rect x="26" y="13" width="3" height="1.02" fill="#2aa866"/><rect x="29" y="13" width="6" height="1.02" fill="#1f8c8a"/><rect x="0" y="14" width="3" height="1.02" fill="#1f8c8a"/><rect x="3" y="14" width="1" height="1.02" fill="#eab522"/><rect x="4" y="14" width="1" height="1.02" fill="#d36a30"/><rect x="5" y="14" width="2" height="1.02" fill="#c8573a"/><rect x="7" y="14" width="1" height="1.02" fill="#d36a30"/><rect x="8" y="14" width="1" height="1.02" fill="#1f8c8a"/><rect x="10" y="14" width="3" height="1.02" fill="#1e5a92"/><rect x="14" y="14" width="3" height="1.02" fill="#d36a30"/><rect x="17" y="14" width="1" height="1.02" fill="#eab522"/><rect x="18" y="14" width="1" height="1.02" fill="#a6e01e"/><rect x="19" y="14" width="1" height="1.02" fill="#2cc43a"/><rect x="20" y="14" width="4" height="1.02" fill="#1f8c8a"/><rect x="24" y="14" width="2" height="1.02" fill="#2cc43a"/><rect x="26" y="14" width="3" height="1.02" fill="#2aa866"/><rect x="29" y="14" width="6" height="1.02" fill="#1f8c8a"/><rect x="0" y="15" width="3" height="1.02" fill="#1f8c8a"/><rect x="3" y="15" width="1" height="1.02" fill="#eab522"/><rect x="4" y="15" width="1" height="1.02" fill="#d36a30"/><rect x="5" y="15" width="2" height="1.02" fill="#c8573a"/><rect x="7" y="15" width="1" height="1.02" fill="#d36a30"/><rect x="8" y="15" width="1" height="1.02" fill="#1f8c8a"/><rect x="10" y="15" width="3" height="1.02" fill="#1e5a92"/><rect x="14" y="15" width="3" height="1.02" fill="#d36a30"/><rect x="17" y="15" width="1" height="1.02" fill="#eab522"/><rect x="18" y="15" width="1" height="1.02" fill="#a6e01e"/><rect x="19" y="15" width="1" height="1.02" fill="#2cc43a"/><rect x="20" y="15" width="4" height="1.02" fill="#1f8c8a"/><rect x="24" y="15" width="2" height="1.02" fill="#2cc43a"/><rect x="26" y="15" width="3" height="1.02" fill="#2aa866"/><rect x="29" y="15" width="6" height="1.02" fill="#1f8c8a"/><rect x="0" y="16" width="3" height="1.02" fill="#1f8c8a"/><rect x="3" y="16" width="1" height="1.02" fill="#eab522"/><rect x="4" y="16" width="1" height="1.02" fill="#d36a30"/><rect x="5" y="16" width="2" height="1.02" fill="#c8573a"/><rect x="7" y="16" width="1" height="1.02" fill="#d36a30"/><rect x="8" y="16" width="1" height="1.02" fill="#1f8c8a"/><rect x="10" y="16" width="3" height="1.02" fill="#1e5a92"/><rect x="14" y="16" width="3" height="1.02" fill="#d36a30"/><rect x="17" y="16" width="1" height="1.02" fill="#eab522"/><rect x="18" y="16" width="1" height="1.02" fill="#a6e01e"/><rect x="19" y="16" width="1" height="1.02" fill="#2cc43a"/><rect x="20" y="16" width="4" height="1.02" fill="#1f8c8a"/><rect x="24" y="16" width="2" height="1.02" fill="#2cc43a"/><rect x="26" y="16" width="3" height="1.02" fill="#2aa866"/><rect x="29" y="16" width="6" height="1.02" fill="#1f8c8a"/></g></svg><svg style="position:absolute;left:0;top:0" width="620" height="266.5"><line x1="282" y1="32.3" x2="352" y2="-1.8" stroke="#c8dc2c" stroke-width="10" stroke-opacity="0.85"/><line x1="294" y1="26.2" x2="351" y2="-1.5" stroke="#cc4f2e" stroke-width="6"/><polygon points="523.8,215.3 533.1,206.0 544.8,203.6 551.7,203.6 558.7,210.6 561.1,215.3 551.7,220.0 549.4,229.3 554.1,235.1 563.4,231.6 579.7,224.6 598.4,223.5 610.0,227.0 612.4,234.0 612.4,252.6 622.0,254.9 622.0,268.5 509.8,268.5 509.8,259.6 505.1,252.6 486.5,247.9 486.5,231.6 509.8,230.5 516.8,223.5" fill="#c8573a" stroke="#e6d024" stroke-width="4" stroke-linejoin="round" paint-order="stroke"/><ellipse cx="549" cy="267.5" rx="20" ry="7.5" fill="#36b84c" stroke="#e6d024" stroke-width="2"/><circle cx="356.5" cy="231" r="6.5" fill="#2a8a7a" stroke="#1b3f8c" stroke-width="4.5"/><line x1="38.5" y1="0" x2="38.5" y2="266.5" stroke="#555" stroke-opacity="0.12" stroke-width="1"/><line x1="200.2" y1="0" x2="200.2" y2="266.5" stroke="#555" stroke-opacity="0.12" stroke-width="1"/><line x1="361.9" y1="0" x2="361.9" y2="266.5" stroke="#555" stroke-opacity="0.12" stroke-width="1"/><line x1="523.6" y1="0" x2="523.6" y2="266.5" stroke="#555" stroke-opacity="0.12" stroke-width="1"/><line x1="0" y1="57.5" x2="620" y2="57.5" stroke="#555" stroke-opacity="0.12" stroke-width="1"/><line x1="0" y1="218.5" x2="620" y2="218.5" stroke="#555" stroke-opacity="0.12" stroke-width="1"/></svg></div><div style="position:absolute;left:692px;top:602.5px;width:622px;height:266.5px;overflow:hidden"><svg style="position:absolute;left:-40.13px;top:-41.00px" width="702.26" height="348.50" viewBox="0 0 35 17" preserveAspectRatio="none"><defs><filter id="f5" x="-0.1" y="-0.1" width="1.2" height="1.2" color-interpolation-filters="sRGB"><feGaussianBlur stdDeviation="0.3"/></filter></defs><g filter="url(#f5)" shape-rendering="crispEdges"><rect width="35" height="17" fill="#1f8c8a"/><rect x="3" y="0" width="1" height="1.02" fill="#226f8e"/><rect x="4" y="0" width="1" height="1.02" fill="#2cc43a"/><rect x="5" y="0" width="1" height="1.02" fill="#1e5a92"/><rect x="6" y="0" width="9" height="1.02" fill="#226f8e"/><rect x="15" y="0" width="1" height="1.02" fill="#1e5a92"/><rect x="16" y="0" width="3" height="1.02" fill="#226f8e"/><rect x="20" y="0" width="1" height="1.02" fill="#226f8e"/><rect x="21" y="0" width="1" height="1.02" fill="#1e5a92"/><rect x="25" y="0" width="7" height="1.02" fill="#226f8e"/><rect x="3" y="1" width="1" height="1.02" fill="#226f8e"/><rect x="4" y="1" width="1" height="1.02" fill="#2cc43a"/><rect x="5" y="1" width="1" height="1.02" fill="#1e5a92"/><rect x="6" y="1" width="9" height="1.02" fill="#226f8e"/><rect x="15" y="1" width="1" height="1.02" fill="#1e5a92"/><rect x="16" y="1" width="3" height="1.02" fill="#226f8e"/><rect x="20" y="1" width="1" height="1.02" fill="#226f8e"/><rect x="21" y="1" width="1" height="1.02" fill="#1e5a92"/><rect x="25" y="1" width="7" height="1.02" fill="#226f8e"/><rect x="3" y="2" width="1" height="1.02" fill="#226f8e"/><rect x="4" y="2" width="1" height="1.02" fill="#2cc43a"/><rect x="5" y="2" width="1" height="1.02" fill="#1e5a92"/><rect x="6" y="2" width="9" height="1.02" fill="#226f8e"/><rect x="15" y="2" width="1" height="1.02" fill="#1e5a92"/><rect x="16" y="2" width="3" height="1.02" fill="#226f8e"/><rect x="20" y="2" width="1" height="1.02" fill="#226f8e"/><rect x="21" y="2" width="1" height="1.02" fill="#1e5a92"/><rect x="25" y="2" width="7" height="1.02" fill="#226f8e"/><rect x="3" y="3" width="21" height="1.02" fill="#226f8e"/><rect x="24" y="3" width="1" height="1.02" fill="#1e5a92"/><rect x="26" y="3" width="6" height="1.02" fill="#226f8e"/><rect x="0" y="4" width="3" height="1.02" fill="#226f8e"/><rect x="3" y="4" width="1" height="1.02" fill="#2aa866"/><rect x="4" y="4" width="2" height="1.02" fill="#d36a30"/><rect x="6" y="4" width="2" height="1.02" fill="#2cc43a"/><rect x="8" y="4" width="1" height="1.02" fill="#a6e01e"/><rect x="9" y="4" width="2" height="1.02" fill="#2cc43a"/><rect x="11" y="4" width="1" height="1.02" fill="#a6e01e"/><rect x="12" y="4" width="2" height="1.02" fill="#2cc43a"/><rect x="14" y="4" width="1" height="1.02" fill="#2aa866"/><rect x="16" y="4" width="1" height="1.02" fill="#2cc43a"/><rect x="17" y="4" width="1" height="1.02" fill="#2aa866"/><rect x="18" y="4" width="4" height="1.02" fill="#226f8e"/><rect x="23" y="4" width="1" height="1.02" fill="#eab522"/><rect x="24" y="4" width="3" height="1.02" fill="#d36a30"/><rect x="27" y="4" width="1" height="1.02" fill="#e08a28"/><rect x="0" y="5" width="3" height="1.02" fill="#226f8e"/><rect x="3" y="5" width="2" height="1.02" fill="#e08a28"/><rect x="5" y="5" width="1" height="1.02" fill="#eab522"/><rect x="6" y="5" width="2" height="1.02" fill="#d36a30"/><rect x="8" y="5" width="1" height="1.02" fill="#e08a28"/><rect x="9" y="5" width="2" height="1.02" fill="#2cc43a"/><rect x="11" y="5" width="1" height="1.02" fill="#2aa866"/><rect x="12" y="5" width="1" height="1.02" fill="#2cc43a"/><rect x="13" y="5" width="1" height="1.02" fill="#2aa866"/><rect x="14" y="5" width="1" height="1.02" fill="#2cc43a"/><rect x="15" y="5" width="1" height="1.02" fill="#e08a28"/><rect x="16" y="5" width="1" height="1.02" fill="#d36a30"/><rect x="17" y="5" width="1" height="1.02" fill="#e08a28"/><rect x="18" y="5" width="1" height="1.02" fill="#226f8e"/><rect x="20" y="5" width="1" height="1.02" fill="#2cc43a"/><rect x="21" y="5" width="1" height="1.02" fill="#a6e01e"/><rect x="22" y="5" width="2" height="1.02" fill="#eab522"/><rect x="24" y="5" width="1" height="1.02" fill="#e08a28"/><rect x="25" y="5" width="2" height="1.02" fill="#d36a30"/><rect x="27" y="5" width="1" height="1.02" fill="#e08a28"/><rect x="0" y="6" width="3" height="1.02" fill="#2aa866"/><rect x="4" y="6" width="1" height="1.02" fill="#a6e01e"/><rect x="5" y="6" width="1" height="1.02" fill="#eab522"/><rect x="6" y="6" width="3" height="1.02" fill="#d36a30"/><rect x="9" y="6" width="1" height="1.02" fill="#a6e01e"/><rect x="10" y="6" width="1" height="1.02" fill="#2aa866"/><rect x="11" y="6" width="2" height="1.02" fill="#226f8e"/><rect x="13" y="6" width="1" height="1.02" fill="#2aa866"/><rect x="14" y="6" width="1" height="1.02" fill="#e08a28"/><rect x="15" y="6" width="1" height="1.02" fill="#d36a30"/><rect x="16" y="6" width="1" height="1.02" fill="#e08a28"/><rect x="17" y="6" width="1" height="1.02" fill="#eab522"/><rect x="18" y="6" width="1" height="1.02" fill="#a6e01e"/><rect x="19" y="6" width="2" height="1.02" fill="#d36a30"/><rect x="21" y="6" width="1" height="1.02" fill="#eab522"/><rect x="22" y="6" width="1" height="1.02" fill="#a6e01e"/><rect x="23" y="6" width="1" height="1.02" fill="#2cc43a"/><rect x="24" y="6" width="1" height="1.02" fill="#a6e01e"/><rect x="25" y="6" width="1" height="1.02" fill="#eab522"/><rect x="26" y="6" width="1" height="1.02" fill="#e08a28"/><rect x="27" y="6" width="1" height="1.02" fill="#eab522"/><rect x="30" y="6" width="2" height="1.02" fill="#2cc43a"/><rect x="32" y="6" width="3" height="1.02" fill="#226f8e"/><rect x="0" y="7" width="4" height="1.02" fill="#d36a30"/><rect x="4" y="7" width="1" height="1.02" fill="#e08a28"/><rect x="5" y="7" width="1" height="1.02" fill="#a6e01e"/><rect x="6" y="7" width="2" height="1.02" fill="#d36a30"/><rect x="8" y="7" width="1" height="1.02" fill="#e08a28"/><rect x="9" y="7" width="1" height="1.02" fill="#d36a30"/><rect x="10" y="7" width="2" height="1.02" fill="#a6e01e"/><rect x="12" y="7" width="1" height="1.02" fill="#2cc43a"/><rect x="13" y="7" width="1" height="1.02" fill="#a6e01e"/><rect x="14" y="7" width="4" height="1.02" fill="#eab522"/><rect x="18" y="7" width="1" height="1.02" fill="#d36a30"/><rect x="19" y="7" width="1" height="1.02" fill="#e08a28"/><rect x="20" y="7" width="2" height="1.02" fill="#eab522"/><rect x="22" y="7" width="1" height="1.02" fill="#2cc43a"/><rect x="23" y="7" width="2" height="1.02" fill="#a6e01e"/><rect x="25" y="7" width="3" height="1.02" fill="#eab522"/><rect x="28" y="7" width="1" height="1.02" fill="#a6e01e"/><rect x="29" y="7" width="3" height="1.02" fill="#2cc43a"/><rect x="32" y="7" width="3" height="1.02" fill="#1e5a92"/><rect x="0" y="8" width="4" height="1.02" fill="#d36a30"/><rect x="4" y="8" width="1" height="1.02" fill="#e08a28"/><rect x="5" y="8" width="2" height="1.02" fill="#d36a30"/><rect x="7" y="8" width="1" height="1.02" fill="#e08a28"/><rect x="8" y="8" width="1" height="1.02" fill="#d36a30"/><rect x="9" y="8" width="1" height="1.02" fill="#e08a28"/><rect x="10" y="8" width="10" height="1.02" fill="#d36a30"/><rect x="20" y="8" width="1" height="1.02" fill="#e08a28"/><rect x="21" y="8" width="1" height="1.02" fill="#eab522"/><rect x="22" y="8" width="2" height="1.02" fill="#2cc43a"/><rect x="24" y="8" width="3" height="1.02" fill="#eab522"/><rect x="27" y="8" width="3" height="1.02" fill="#a6e01e"/><rect x="30" y="8" width="1" height="1.02" fill="#2cc43a"/><rect x="31" y="8" width="1" height="1.02" fill="#2aa866"/><rect x="0" y="9" width="3" height="1.02" fill="#2cc43a"/><rect x="3" y="9" width="1" height="1.02" fill="#1e5a92"/><rect x="4" y="9" width="1" height="1.02" fill="#e08a28"/><rect x="5" y="9" width="1" height="1.02" fill="#d36a30"/><rect x="6" y="9" width="1" height="1.02" fill="#eab522"/><rect x="7" y="9" width="2" height="1.02" fill="#d36a30"/><rect x="9" y="9" width="1" height="1.02" fill="#c8573a"/><rect x="10" y="9" width="1" height="1.02" fill="#d36a30"/><rect x="11" y="9" width="1" height="1.02" fill="#c8573a"/><rect x="12" y="9" width="1" height="1.02" fill="#d36a30"/><rect x="13" y="9" width="2" height="1.02" fill="#e08a28"/><rect x="15" y="9" width="5" height="1.02" fill="#d36a30"/><rect x="20" y="9" width="1" height="1.02" fill="#e08a28"/><rect x="21" y="9" width="1" height="1.02" fill="#d36a30"/><rect x="22" y="9" width="1" height="1.02" fill="#e08a28"/><rect x="23" y="9" width="2" height="1.02" fill="#eab522"/><rect x="25" y="9" width="2" height="1.02" fill="#a6e01e"/><rect x="27" y="9" width="1" height="1.02" fill="#eab522"/><rect x="28" y="9" width="1" height="1.02" fill="#a6e01e"/><rect x="0" y="10" width="3" height="1.02" fill="#2cc43a"/><rect x="3" y="10" width="2" height="1.02" fill="#d36a30"/><rect x="5" y="10" width="1" height="1.02" fill="#c8573a"/><rect x="6" y="10" width="2" height="1.02" fill="#d36a30"/><rect x="8" y="10" width="4" height="1.02" fill="#c8573a"/><rect x="12" y="10" width="1" height="1.02" fill="#d36a30"/><rect x="13" y="10" width="2" height="1.02" fill="#e08a28"/><rect x="15" y="10" width="5" height="1.02" fill="#d36a30"/><rect x="20" y="10" width="1" height="1.02" fill="#eab522"/><rect x="21" y="10" width="1" height="1.02" fill="#e08a28"/><rect x="22" y="10" width="2" height="1.02" fill="#eab522"/><rect x="24" y="10" width="2" height="1.02" fill="#a6e01e"/><rect x="26" y="10" width="1" height="1.02" fill="#2cc43a"/><rect x="27" y="10" width="1" height="1.02" fill="#d36a30"/><rect x="28" y="10" width="1" height="1.02" fill="#e08a28"/><rect x="29" y="10" width="1" height="1.02" fill="#a6e01e"/><rect x="30" y="10" width="1" height="1.02" fill="#2cc43a"/><rect x="31" y="10" width="1" height="1.02" fill="#2aa866"/><rect x="0" y="11" width="3" height="1.02" fill="#d36a30"/><rect x="3" y="11" width="8" height="1.02" fill="#c8573a"/><rect x="11" y="11" width="7" height="1.02" fill="#d36a30"/><rect x="18" y="11" width="1" height="1.02" fill="#eab522"/><rect x="19" y="11" width="1" height="1.02" fill="#a6e01e"/><rect x="20" y="11" width="1" height="1.02" fill="#eab522"/><rect x="21" y="11" width="2" height="1.02" fill="#a6e01e"/><rect x="23" y="11" width="2" height="1.02" fill="#2cc43a"/><rect x="25" y="11" width="1" height="1.02" fill="#2aa866"/><rect x="26" y="11" width="1" height="1.02" fill="#2cc43a"/><rect x="27" y="11" width="1" height="1.02" fill="#e08a28"/><rect x="28" y="11" width="1" height="1.02" fill="#a6e01e"/><rect x="29" y="11" width="2" height="1.02" fill="#2cc43a"/><rect x="0" y="12" width="6" height="1.02" fill="#c8573a"/><rect x="6" y="12" width="7" height="1.02" fill="#d36a30"/><rect x="13" y="12" width="1" height="1.02" fill="#e08a28"/><rect x="14" y="12" width="1" height="1.02" fill="#eab522"/><rect x="15" y="12" width="3" height="1.02" fill="#d36a30"/><rect x="18" y="12" width="1" height="1.02" fill="#eab522"/><rect x="19" y="12" width="2" height="1.02" fill="#a6e01e"/><rect x="21" y="12" width="5" height="1.02" fill="#2cc43a"/><rect x="26" y="12" width="1" height="1.02" fill="#a6e01e"/><rect x="27" y="12" width="1" height="1.02" fill="#2cc43a"/><rect x="28" y="12" width="1" height="1.02" fill="#2aa866"/><rect x="30" y="12" width="1" height="1.02" fill="#2cc43a"/><rect x="0" y="13" width="4" height="1.02" fill="#d36a30"/><rect x="4" y="13" width="2" height="1.02" fill="#c8573a"/><rect x="6" y="13" width="1" height="1.02" fill="#eab522"/><rect x="7" y="13" width="1" height="1.02" fill="#2cc43a"/><rect x="8" y="13" width="1" height="1.02" fill="#226f8e"/><rect x="9" y="13" width="2" height="1.02" fill="#1e5a92"/><rect x="11" y="13" width="1" height="1.02" fill="#226f8e"/><rect x="12" y="13" width="6" height="1.02" fill="#d36a30"/><rect x="18" y="13" width="1" height="1.02" fill="#eab522"/><rect x="19" y="13" width="1" height="1.02" fill="#1e5a92"/><rect x="20" y="13" width="6" height="1.02" fill="#2cc43a"/><rect x="26" y="13" width="3" height="1.02" fill="#2aa866"/><rect x="3" y="14" width="1" height="1.02" fill="#eab522"/><rect x="4" y="14" width="1" height="1.02" fill="#d36a30"/><rect x="5" y="14" width="1" height="1.02" fill="#c8573a"/><rect x="6" y="14" width="1" height="1.02" fill="#d36a30"/><rect x="7" y="14" width="1" height="1.02" fill="#e08a28"/><rect x="9" y="14" width="1" height="1.02" fill="#226f8e"/><rect x="10" y="14" width="3" height="1.02" fill="#1e5a92"/><rect x="13" y="14" width="1" height="1.02" fill="#226f8e"/><rect x="14" y="14" width="3" height="1.02" fill="#d36a30"/><rect x="17" y="14" width="1" height="1.02" fill="#e08a28"/><rect x="18" y="14" width="1" height="1.02" fill="#eab522"/><rect x="19" y="14" width="3" height="1.02" fill="#2cc43a"/><rect x="22" y="14" width="1" height="1.02" fill="#a6e01e"/><rect x="23" y="14" width="3" height="1.02" fill="#2cc43a"/><rect x="26" y="14" width="3" height="1.02" fill="#2aa866"/><rect x="3" y="15" width="1" height="1.02" fill="#eab522"/><rect x="4" y="15" width="1" height="1.02" fill="#d36a30"/><rect x="5" y="15" width="1" height="1.02" fill="#c8573a"/><rect x="6" y="15" width="1" height="1.02" fill="#d36a30"/><rect x="7" y="15" width="1" height="1.02" fill="#e08a28"/><rect x="9" y="15" width="1" height="1.02" fill="#226f8e"/><rect x="10" y="15" width="3" height="1.02" fill="#1e5a92"/><rect x="13" y="15" width="1" height="1.02" fill="#226f8e"/><rect x="14" y="15" width="3" height="1.02" fill="#d36a30"/><rect x="17" y="15" width="1" height="1.02" fill="#e08a28"/><rect x="18" y="15" width="1" height="1.02" fill="#eab522"/><rect x="19" y="15" width="3" height="1.02" fill="#2cc43a"/><rect x="22" y="15" width="1" height="1.02" fill="#a6e01e"/><rect x="23" y="15" width="3" height="1.02" fill="#2cc43a"/><rect x="26" y="15" width="3" height="1.02" fill="#2aa866"/><rect x="3" y="16" width="1" height="1.02" fill="#eab522"/><rect x="4" y="16" width="1" height="1.02" fill="#d36a30"/><rect x="5" y="16" width="1" height="1.02" fill="#c8573a"/><rect x="6" y="16" width="1" height="1.02" fill="#d36a30"/><rect x="7" y="16" width="1" height="1.02" fill="#e08a28"/><rect x="9" y="16" width="1" height="1.02" fill="#226f8e"/><rect x="10" y="16" width="3" height="1.02" fill="#1e5a92"/><rect x="13" y="16" width="1" height="1.02" fill="#226f8e"/><rect x="14" y="16" width="3" height="1.02" fill="#d36a30"/><rect x="17" y="16" width="1" height="1.02" fill="#e08a28"/><rect x="18" y="16" width="1" height="1.02" fill="#eab522"/><rect x="19" y="16" width="3" height="1.02" fill="#2cc43a"/><rect x="22" y="16" width="1" height="1.02" fill="#a6e01e"/><rect x="23" y="16" width="3" height="1.02" fill="#2cc43a"/><rect x="26" y="16" width="3" height="1.02" fill="#2aa866"/></g></svg><svg style="position:absolute;left:0;top:0" width="622" height="266.5"><line x1="282" y1="32.3" x2="352" y2="-1.8" stroke="#c8dc2c" stroke-width="10" stroke-opacity="0.85"/><line x1="294" y1="26.2" x2="351" y2="-1.5" stroke="#cc4f2e" stroke-width="6"/><polygon points="523.8,215.3 533.1,206.0 544.8,203.6 551.7,203.6 558.7,210.6 561.1,215.3 551.7,220.0 549.4,229.3 554.1,235.1 563.4,231.6 579.7,224.6 598.4,223.5 610.0,227.0 612.4,234.0 612.4,252.6 624.0,254.9 624.0,268.5 509.8,268.5 509.8,259.6 505.1,252.6 486.5,247.9 486.5,231.6 509.8,230.5 516.8,223.5" fill="#c8573a" stroke="#e6d024" stroke-width="4" stroke-linejoin="round" paint-order="stroke"/><ellipse cx="549" cy="267.5" rx="20" ry="7.5" fill="#36b84c" stroke="#e6d024" stroke-width="2"/><circle cx="356.5" cy="231" r="6.5" fill="#2a8a7a" stroke="#1b3f8c" stroke-width="4.5"/><line x1="38.5" y1="0" x2="38.5" y2="266.5" stroke="#555" stroke-opacity="0.12" stroke-width="1"/><line x1="200.2" y1="0" x2="200.2" y2="266.5" stroke="#555" stroke-opacity="0.12" stroke-width="1"/><line x1="361.9" y1="0" x2="361.9" y2="266.5" stroke="#555" stroke-opacity="0.12" stroke-width="1"/><line x1="523.6" y1="0" x2="523.6" y2="266.5" stroke="#555" stroke-opacity="0.12" stroke-width="1"/><line x1="0" y1="57.5" x2="622" y2="57.5" stroke="#555" stroke-opacity="0.12" stroke-width="1"/><line x1="0" y1="218.5" x2="622" y2="218.5" stroke="#555" stroke-opacity="0.12" stroke-width="1"/></svg></div><div style="position:absolute;left:69px;top:871.5px;width:620px;height:266.0px;overflow:hidden"><svg style="position:absolute;left:-40.00px;top:-40.92px" width="700.00" height="347.85" viewBox="0 0 35 17" preserveAspectRatio="none"><defs><filter id="f6" x="-0.1" y="-0.1" width="1.2" height="1.2" color-interpolation-filters="sRGB"><feGaussianBlur stdDeviation="0.3"/></filter></defs><g filter="url(#f6)" shape-rendering="crispEdges"><rect width="35" height="17" fill="#226f8e"/><rect x="3" y="0" width="1" height="1.02" fill="#1f8c8a"/><rect x="4" y="0" width="1" height="1.02" fill="#2cc43a"/><rect x="5" y="0" width="1" height="1.02" fill="#1e5a92"/><rect x="7" y="0" width="1" height="1.02" fill="#1f8c8a"/><rect x="15" y="0" width="1" height="1.02" fill="#1e5a92"/><rect x="19" y="0" width="1" height="1.02" fill="#1f8c8a"/><rect x="20" y="0" width="1" height="1.02" fill="#2cc43a"/><rect x="21" y="0" width="1" height="1.02" fill="#1e5a92"/><rect x="3" y="1" width="1" height="1.02" fill="#1f8c8a"/><rect x="4" y="1" width="1" height="1.02" fill="#2cc43a"/><rect x="5" y="1" width="1" height="1.02" fill="#1e5a92"/><rect x="7" y="1" width="1" height="1.02" fill="#1f8c8a"/><rect x="15" y="1" width="1" height="1.02" fill="#1e5a92"/><rect x="19" y="1" width="1" height="1.02" fill="#1f8c8a"/><rect x="20" y="1" width="1" height="1.02" fill="#2cc43a"/><rect x="21" y="1" width="1" height="1.02" fill="#1e5a92"/><rect x="3" y="2" width="1" height="1.02" fill="#1f8c8a"/><rect x="4" y="2" width="1" height="1.02" fill="#2cc43a"/><rect x="5" y="2" width="1" height="1.02" fill="#1e5a92"/><rect x="7" y="2" width="1" height="1.02" fill="#1f8c8a"/><rect x="15" y="2" width="1" height="1.02" fill="#1e5a92"/><rect x="19" y="2" width="1" height="1.02" fill="#1f8c8a"/><rect x="20" y="2" width="1" height="1.02" fill="#2cc43a"/><rect x="21" y="2" width="1" height="1.02" fill="#1e5a92"/><rect x="4" y="3" width="1" height="1.02" fill="#2cc43a"/><rect x="15" y="3" width="2" height="1.02" fill="#1f8c8a"/><rect x="24" y="3" width="1" height="1.02" fill="#1e5a92"/><rect x="3" y="4" width="1" height="1.02" fill="#2aa866"/><rect x="4" y="4" width="1" height="1.02" fill="#d36a30"/><rect x="5" y="4" width="1" height="1.02" fill="#2cc43a"/><rect x="6" y="4" width="1" height="1.02" fill="#a6e01e"/><rect x="7" y="4" width="1" height="1.02" fill="#2cc43a"/><rect x="8" y="4" width="1" height="1.02" fill="#a6e01e"/><rect x="9" y="4" width="3" height="1.02" fill="#eab522"/><rect x="12" y="4" width="1" height="1.02" fill="#a6e01e"/><rect x="13" y="4" width="1" height="1.02" fill="#2aa866"/><rect x="14" y="4" width="2" height="1.02" fill="#1f8c8a"/><rect x="16" y="4" width="1" height="1.02" fill="#2aa866"/><rect x="17" y="4" width="1" height="1.02" fill="#2cc43a"/><rect x="21" y="4" width="1" height="1.02" fill="#1e5a92"/><rect x="22" y="4" width="1" height="1.02" fill="#1f8c8a"/><rect x="23" y="4" width="1" height="1.02" fill="#2cc43a"/><rect x="24" y="4" width="5" height="1.02" fill="#1f8c8a"/><rect x="0" y="5" width="3" height="1.02" fill="#1f8c8a"/><rect x="3" y="5" width="2" height="1.02" fill="#e08a28"/><rect x="5" y="5" width="1" height="1.02" fill="#eab522"/><rect x="6" y="5" width="2" height="1.02" fill="#d36a30"/><rect x="8" y="5" width="1" height="1.02" fill="#e08a28"/><rect x="9" y="5" width="1" height="1.02" fill="#eab522"/><rect x="10" y="5" width="1" height="1.02" fill="#a6e01e"/><rect x="11" y="5" width="1" height="1.02" fill="#2aa866"/><rect x="12" y="5" width="2" height="1.02" fill="#a6e01e"/><rect x="14" y="5" width="1" height="1.02" fill="#eab522"/><rect x="15" y="5" width="1" height="1.02" fill="#a6e01e"/><rect x="16" y="5" width="1" height="1.02" fill="#2cc43a"/><rect x="17" y="5" width="1" height="1.02" fill="#a6e01e"/><rect x="20" y="5" width="1" height="1.02" fill="#2aa866"/><rect x="21" y="5" width="4" height="1.02" fill="#2cc43a"/><rect x="25" y="5" width="2" height="1.02" fill="#a6e01e"/><rect x="27" y="5" width="1" height="1.02" fill="#2cc43a"/><rect x="28" y="5" width="2" height="1.02" fill="#1f8c8a"/><rect x="3" y="6" width="1" height="1.02" fill="#1f8c8a"/><rect x="4" y="6" width="2" height="1.02" fill="#a6e01e"/><rect x="6" y="6" width="3" height="1.02" fill="#d36a30"/><rect x="9" y="6" width="1" height="1.02" fill="#e08a28"/><rect x="10" y="6" width="1" height="1.02" fill="#a6e01e"/><rect x="11" y="6" width="1" height="1.02" fill="#2aa866"/><rect x="12" y="6" width="1" height="1.02" fill="#1f8c8a"/><rect x="13" y="6" width="1" height="1.02" fill="#2cc43a"/><rect x="14" y="6" width="1" height="1.02" fill="#eab522"/><rect x="15" y="6" width="1" height="1.02" fill="#e08a28"/><rect x="16" y="6" width="2" height="1.02" fill="#eab522"/><rect x="18" y="6" width="7" height="1.02" fill="#2cc43a"/><rect x="25" y="6" width="1" height="1.02" fill="#a6e01e"/><rect x="26" y="6" width="1" height="1.02" fill="#eab522"/><rect x="27" y="6" width="1" height="1.02" fill="#2aa866"/><rect x="28" y="6" width="3" height="1.02" fill="#1f8c8a"/><rect x="32" y="6" width="3" height="1.02" fill="#1e5a92"/><rect x="0" y="7" width="3" height="1.02" fill="#e08a28"/><rect x="3" y="7" width="1" height="1.02" fill="#d36a30"/><rect x="4" y="7" width="1" height="1.02" fill="#e08a28"/><rect x="5" y="7" width="1" height="1.02" fill="#eab522"/><rect x="6" y="7" width="1" height="1.02" fill="#d36a30"/><rect x="7" y="7" width="1" height="1.02" fill="#e08a28"/><rect x="8" y="7" width="1" height="1.02" fill="#d36a30"/><rect x="9" y="7" width="1" height="1.02" fill="#e08a28"/><rect x="10" y="7" width="2" height="1.02" fill="#eab522"/><rect x="12" y="7" width="1" height="1.02" fill="#a6e01e"/><rect x="13" y="7" width="1" height="1.02" fill="#2aa866"/><rect x="14" y="7" width="3" height="1.02" fill="#a6e01e"/><rect x="17" y="7" width="1" height="1.02" fill="#eab522"/><rect x="18" y="7" width="2" height="1.02" fill="#a6e01e"/><rect x="20" y="7" width="3" height="1.02" fill="#2cc43a"/><rect x="23" y="7" width="1" height="1.02" fill="#a6e01e"/><rect x="24" y="7" width="6" height="1.02" fill="#2cc43a"/><rect x="30" y="7" width="1" height="1.02" fill="#a6e01e"/><rect x="31" y="7" width="1" height="1.02" fill="#2cc43a"/><rect x="32" y="7" width="3" height="1.02" fill="#1e5a92"/><rect x="0" y="8" width="4" height="1.02" fill="#d36a30"/><rect x="4" y="8" width="1" height="1.02" fill="#e08a28"/><rect x="5" y="8" width="2" height="1.02" fill="#d36a30"/><rect x="7" y="8" width="4" height="1.02" fill="#e08a28"/><rect x="11" y="8" width="9" height="1.02" fill="#d36a30"/><rect x="20" y="8" width="1" height="1.02" fill="#eab522"/><rect x="21" y="8" width="4" height="1.02" fill="#2cc43a"/><rect x="25" y="8" width="3" height="1.02" fill="#a6e01e"/><rect x="28" y="8" width="1" height="1.02" fill="#2cc43a"/><rect x="29" y="8" width="2" height="1.02" fill="#1f8c8a"/><rect x="31" y="8" width="1" height="1.02" fill="#1e5a92"/><rect x="0" y="9" width="3" height="1.02" fill="#2cc43a"/><rect x="3" y="9" width="1" height="1.02" fill="#1e5a92"/><rect x="4" y="9" width="1" height="1.02" fill="#eab522"/><rect x="5" y="9" width="1" height="1.02" fill="#d36a30"/><rect x="6" y="9" width="1" height="1.02" fill="#eab522"/><rect x="7" y="9" width="1" height="1.02" fill="#e08a28"/><rect x="8" y="9" width="1" height="1.02" fill="#d36a30"/><rect x="9" y="9" width="1" height="1.02" fill="#c8573a"/><rect x="10" y="9" width="1" height="1.02" fill="#d36a30"/><rect x="11" y="9" width="1" height="1.02" fill="#c8573a"/><rect x="12" y="9" width="1" height="1.02" fill="#d36a30"/><rect x="13" y="9" width="1" height="1.02" fill="#eab522"/><rect x="14" y="9" width="1" height="1.02" fill="#e08a28"/><rect x="15" y="9" width="1" height="1.02" fill="#eab522"/><rect x="16" y="9" width="4" height="1.02" fill="#d36a30"/><rect x="20" y="9" width="1" height="1.02" fill="#a6e01e"/><rect x="21" y="9" width="1" height="1.02" fill="#eab522"/><rect x="22" y="9" width="1" height="1.02" fill="#e08a28"/><rect x="23" y="9" width="1" height="1.02" fill="#eab522"/><rect x="24" y="9" width="2" height="1.02" fill="#a6e01e"/><rect x="26" y="9" width="1" height="1.02" fill="#2cc43a"/><rect x="27" y="9" width="1" height="1.02" fill="#a6e01e"/><rect x="28" y="9" width="1" height="1.02" fill="#eab522"/><rect x="29" y="9" width="1" height="1.02" fill="#2cc43a"/><rect x="30" y="9" width="5" height="1.02" fill="#1f8c8a"/><rect x="0" y="10" width="3" height="1.02" fill="#eab522"/><rect x="3" y="10" width="1" height="1.02" fill="#e08a28"/><rect x="4" y="10" width="1" height="1.02" fill="#d36a30"/><rect x="5" y="10" width="1" height="1.02" fill="#c8573a"/><rect x="6" y="10" width="1" height="1.02" fill="#e08a28"/><rect x="7" y="10" width="1" height="1.02" fill="#d36a30"/><rect x="8" y="10" width="4" height="1.02" fill="#c8573a"/><rect x="12" y="10" width="7" height="1.02" fill="#d36a30"/><rect x="19" y="10" width="1" height="1.02" fill="#e08a28"/><rect x="20" y="10" width="4" height="1.02" fill="#eab522"/><rect x="24" y="10" width="2" height="1.02" fill="#a6e01e"/><rect x="26" y="10" width="1" height="1.02" fill="#2cc43a"/><rect x="27" y="10" width="1" height="1.02" fill="#a6e01e"/><rect x="28" y="10" width="1" height="1.02" fill="#e08a28"/><rect x="29" y="10" width="2" height="1.02" fill="#2cc43a"/><rect x="31" y="10" width="4" height="1.02" fill="#1f8c8a"/><rect x="0" y="11" width="3" height="1.02" fill="#d36a30"/><rect x="3" y="11" width="8" height="1.02" fill="#c8573a"/><rect x="11" y="11" width="2" height="1.02" fill="#d36a30"/><rect x="13" y="11" width="1" height="1.02" fill="#e08a28"/><rect x="14" y="11" width="1" height="1.02" fill="#eab522"/><rect x="15" y="11" width="1" height="1.02" fill="#d36a30"/><rect x="16" y="11" width="1" height="1.02" fill="#e08a28"/><rect x="17" y="11" width="1" height="1.02" fill="#d36a30"/><rect x="18" y="11" width="1" height="1.02" fill="#eab522"/><rect x="19" y="11" width="1" height="1.02" fill="#a6e01e"/><rect x="20" y="11" width="7" height="1.02" fill="#2cc43a"/><rect x="27" y="11" width="1" height="1.02" fill="#a6e01e"/><rect x="28" y="11" width="2" height="1.02" fill="#2cc43a"/><rect x="30" y="11" width="5" height="1.02" fill="#1f8c8a"/><rect x="0" y="12" width="6" height="1.02" fill="#c8573a"/><rect x="6" y="12" width="4" height="1.02" fill="#d36a30"/><rect x="10" y="12" width="1" height="1.02" fill="#c8573a"/><rect x="11" y="12" width="2" height="1.02" fill="#d36a30"/><rect x="13" y="12" width="2" height="1.02" fill="#eab522"/><rect x="15" y="12" width="3" height="1.02" fill="#d36a30"/><rect x="18" y="12" width="1" height="1.02" fill="#eab522"/><rect x="19" y="12" width="2" height="1.02" fill="#2cc43a"/><rect x="21" y="12" width="1" height="1.02" fill="#1f8c8a"/><rect x="22" y="12" width="3" height="1.02" fill="#2cc43a"/><rect x="25" y="12" width="1" height="1.02" fill="#1f8c8a"/><rect x="26" y="12" width="2" height="1.02" fill="#2cc43a"/><rect x="28" y="12" width="1" height="1.02" fill="#2aa866"/><rect x="29" y="12" width="6" height="1.02" fill="#1f8c8a"/><rect x="0" y="13" width="3" height="1.02" fill="#e08a28"/><rect x="3" y="13" width="1" height="1.02" fill="#d36a30"/><rect x="4" y="13" width="2" height="1.02" fill="#c8573a"/><rect x="6" y="13" width="1" height="1.02" fill="#eab522"/><rect x="7" y="13" width="1" height="1.02" fill="#2cc43a"/><rect x="9" y="13" width="2" height="1.02" fill="#1e5a92"/><rect x="12" y="13" width="1" height="1.02" fill="#eab522"/><rect x="13" y="13" width="5" height="1.02" fill="#d36a30"/><rect x="18" y="13" width="1" height="1.02" fill="#2cc43a"/><rect x="19" y="13" width="1" height="1.02" fill="#1e5a92"/><rect x="20" y="13" width="1" height="1.02" fill="#2cc43a"/><rect x="21" y="13" width="1" height="1.02" fill="#1f8c8a"/><rect x="22" y="13" width="1" height="1.02" fill="#2cc43a"/><rect x="23" y="13" width="1" height="1.02" fill="#1f8c8a"/><rect x="24" y="13" width="2" height="1.02" fill="#2cc43a"/><rect x="26" y="13" width="3" height="1.02" fill="#2aa866"/><rect x="29" y="13" width="6" height="1.02" fill="#1f8c8a"/><rect x="0" y="14" width="3" height="1.02" fill="#1f8c8a"/><rect x="3" y="14" width="1" height="1.02" fill="#eab522"/><rect x="4" y="14" width="1" height="1.02" fill="#d36a30"/><rect x="5" y="14" width="2" height="1.02" fill="#c8573a"/><rect x="7" y="14" width="1" height="1.02" fill="#d36a30"/><rect x="8" y="14" width="1" height="1.02" fill="#1f8c8a"/><rect x="10" y="14" width="3" height="1.02" fill="#1e5a92"/><rect x="14" y="14" width="3" height="1.02" fill="#d36a30"/><rect x="17" y="14" width="2" height="1.02" fill="#eab522"/><rect x="19" y="14" width="2" height="1.02" fill="#2cc43a"/><rect x="21" y="14" width="1" height="1.02" fill="#1f8c8a"/><rect x="22" y="14" width="4" height="1.02" fill="#2cc43a"/><rect x="26" y="14" width="3" height="1.02" fill="#2aa866"/><rect x="29" y="14" width="6" height="1.02" fill="#1f8c8a"/><rect x="0" y="15" width="3" height="1.02" fill="#1f8c8a"/><rect x="3" y="15" width="1" height="1.02" fill="#eab522"/><rect x="4" y="15" width="1" height="1.02" fill="#d36a30"/><rect x="5" y="15" width="2" height="1.02" fill="#c8573a"/><rect x="7" y="15" width="1" height="1.02" fill="#d36a30"/><rect x="8" y="15" width="1" height="1.02" fill="#1f8c8a"/><rect x="10" y="15" width="3" height="1.02" fill="#1e5a92"/><rect x="14" y="15" width="3" height="1.02" fill="#d36a30"/><rect x="17" y="15" width="2" height="1.02" fill="#eab522"/><rect x="19" y="15" width="2" height="1.02" fill="#2cc43a"/><rect x="21" y="15" width="1" height="1.02" fill="#1f8c8a"/><rect x="22" y="15" width="4" height="1.02" fill="#2cc43a"/><rect x="26" y="15" width="3" height="1.02" fill="#2aa866"/><rect x="29" y="15" width="6" height="1.02" fill="#1f8c8a"/><rect x="0" y="16" width="3" height="1.02" fill="#1f8c8a"/><rect x="3" y="16" width="1" height="1.02" fill="#eab522"/><rect x="4" y="16" width="1" height="1.02" fill="#d36a30"/><rect x="5" y="16" width="2" height="1.02" fill="#c8573a"/><rect x="7" y="16" width="1" height="1.02" fill="#d36a30"/><rect x="8" y="16" width="1" height="1.02" fill="#1f8c8a"/><rect x="10" y="16" width="3" height="1.02" fill="#1e5a92"/><rect x="14" y="16" width="3" height="1.02" fill="#d36a30"/><rect x="17" y="16" width="2" height="1.02" fill="#eab522"/><rect x="19" y="16" width="2" height="1.02" fill="#2cc43a"/><rect x="21" y="16" width="1" height="1.02" fill="#1f8c8a"/><rect x="22" y="16" width="4" height="1.02" fill="#2cc43a"/><rect x="26" y="16" width="3" height="1.02" fill="#2aa866"/><rect x="29" y="16" width="6" height="1.02" fill="#1f8c8a"/></g></svg><svg style="position:absolute;left:0;top:0" width="620" height="266.0"><line x1="282" y1="32.3" x2="352" y2="-1.8" stroke="#c8dc2c" stroke-width="10" stroke-opacity="0.85"/><line x1="294" y1="26.2" x2="351" y2="-1.5" stroke="#cc4f2e" stroke-width="6"/><polygon points="523.8,215.3 533.1,206.0 544.8,203.6 551.7,203.6 558.7,210.6 561.1,215.3 551.7,220.0 549.4,229.3 554.1,235.1 563.4,231.6 579.7,224.6 598.4,223.5 610.0,227.0 612.4,234.0 612.4,252.6 622.0,254.9 622.0,268.0 509.8,268.0 509.8,259.6 505.1,252.6 486.5,247.9 486.5,231.6 509.8,230.5 516.8,223.5" fill="#c8573a" stroke="#e6d024" stroke-width="4" stroke-linejoin="round" paint-order="stroke"/><ellipse cx="549" cy="267.0" rx="20" ry="7.5" fill="#36b84c" stroke="#e6d024" stroke-width="2"/><circle cx="356.5" cy="231" r="6.5" fill="#2a8a7a" stroke="#1b3f8c" stroke-width="4.5"/><line x1="38.5" y1="0" x2="38.5" y2="266.0" stroke="#555" stroke-opacity="0.12" stroke-width="1"/><line x1="200.2" y1="0" x2="200.2" y2="266.0" stroke="#555" stroke-opacity="0.12" stroke-width="1"/><line x1="361.9" y1="0" x2="361.9" y2="266.0" stroke="#555" stroke-opacity="0.12" stroke-width="1"/><line x1="523.6" y1="0" x2="523.6" y2="266.0" stroke="#555" stroke-opacity="0.12" stroke-width="1"/><line x1="0" y1="57.5" x2="620" y2="57.5" stroke="#555" stroke-opacity="0.12" stroke-width="1"/><line x1="0" y1="218.5" x2="620" y2="218.5" stroke="#555" stroke-opacity="0.12" stroke-width="1"/></svg></div><div style="position:absolute;left:692px;top:871.5px;width:622px;height:266.0px;overflow:hidden"><svg style="position:absolute;left:-40.13px;top:-40.92px" width="702.26" height="347.85" viewBox="0 0 35 17" preserveAspectRatio="none"><defs><filter id="f7" x="-0.1" y="-0.1" width="1.2" height="1.2" color-interpolation-filters="sRGB"><feGaussianBlur stdDeviation="0.3"/></filter></defs><g filter="url(#f7)" shape-rendering="crispEdges"><rect width="35" height="17" fill="#226f8e"/><rect x="3" y="0" width="1" height="1.02" fill="#1f8c8a"/><rect x="4" y="0" width="1" height="1.02" fill="#2cc43a"/><rect x="5" y="0" width="1" height="1.02" fill="#1e5a92"/><rect x="7" y="0" width="1" height="1.02" fill="#1f8c8a"/><rect x="15" y="0" width="1" height="1.02" fill="#1e5a92"/><rect x="19" y="0" width="1" height="1.02" fill="#1f8c8a"/><rect x="20" y="0" width="1" height="1.02" fill="#eab522"/><rect x="21" y="0" width="1" height="1.02" fill="#2cc43a"/><rect x="22" y="0" width="4" height="1.02" fill="#1f8c8a"/><rect x="3" y="1" width="1" height="1.02" fill="#1f8c8a"/><rect x="4" y="1" width="1" height="1.02" fill="#2cc43a"/><rect x="5" y="1" width="1" height="1.02" fill="#1e5a92"/><rect x="7" y="1" width="1" height="1.02" fill="#1f8c8a"/><rect x="15" y="1" width="1" height="1.02" fill="#1e5a92"/><rect x="19" y="1" width="1" height="1.02" fill="#1f8c8a"/><rect x="20" y="1" width="1" height="1.02" fill="#eab522"/><rect x="21" y="1" width="1" height="1.02" fill="#2cc43a"/><rect x="22" y="1" width="4" height="1.02" fill="#1f8c8a"/><rect x="3" y="2" width="1" height="1.02" fill="#1f8c8a"/><rect x="4" y="2" width="1" height="1.02" fill="#2cc43a"/><rect x="5" y="2" width="1" height="1.02" fill="#1e5a92"/><rect x="7" y="2" width="1" height="1.02" fill="#1f8c8a"/><rect x="15" y="2" width="1" height="1.02" fill="#1e5a92"/><rect x="19" y="2" width="1" height="1.02" fill="#1f8c8a"/><rect x="20" y="2" width="1" height="1.02" fill="#eab522"/><rect x="21" y="2" width="1" height="1.02" fill="#2cc43a"/><rect x="22" y="2" width="4" height="1.02" fill="#1f8c8a"/><rect x="4" y="3" width="1" height="1.02" fill="#eab522"/><rect x="15" y="3" width="1" height="1.02" fill="#1f8c8a"/><rect x="20" y="3" width="1" height="1.02" fill="#1f8c8a"/><rect x="21" y="3" width="1" height="1.02" fill="#eab522"/><rect x="22" y="3" width="1" height="1.02" fill="#e08a28"/><rect x="23" y="3" width="1" height="1.02" fill="#d36a30"/><rect x="24" y="3" width="1" height="1.02" fill="#eab522"/><rect x="27" y="3" width="1" height="1.02" fill="#1f8c8a"/><rect x="4" y="4" width="6" height="1.02" fill="#2cc43a"/><rect x="10" y="4" width="1" height="1.02" fill="#a6e01e"/><rect x="11" y="4" width="2" height="1.02" fill="#eab522"/><rect x="13" y="4" width="4" height="1.02" fill="#2cc43a"/><rect x="17" y="4" width="1" height="1.02" fill="#a6e01e"/><rect x="21" y="4" width="1" height="1.02" fill="#1f8c8a"/><rect x="22" y="4" width="1" height="1.02" fill="#eab522"/><rect x="23" y="4" width="1" height="1.02" fill="#e08a28"/><rect x="24" y="4" width="3" height="1.02" fill="#d36a30"/><rect x="27" y="4" width="1" height="1.02" fill="#e08a28"/><rect x="28" y="4" width="1" height="1.02" fill="#2cc43a"/><rect x="29" y="4" width="6" height="1.02" fill="#1f8c8a"/><rect x="3" y="5" width="2" height="1.02" fill="#d36a30"/><rect x="5" y="5" width="1" height="1.02" fill="#eab522"/><rect x="6" y="5" width="1" height="1.02" fill="#d36a30"/><rect x="7" y="5" width="1" height="1.02" fill="#e08a28"/><rect x="8" y="5" width="1" height="1.02" fill="#eab522"/><rect x="9" y="5" width="1" height="1.02" fill="#a6e01e"/><rect x="10" y="5" width="1" height="1.02" fill="#eab522"/><rect x="11" y="5" width="1" height="1.02" fill="#a6e01e"/><rect x="12" y="5" width="1" height="1.02" fill="#eab522"/><rect x="13" y="5" width="1" height="1.02" fill="#e08a28"/><rect x="14" y="5" width="1" height="1.02" fill="#eab522"/><rect x="15" y="5" width="1" height="1.02" fill="#a6e01e"/><rect x="16" y="5" width="1" height="1.02" fill="#e08a28"/><rect x="17" y="5" width="1" height="1.02" fill="#eab522"/><rect x="20" y="5" width="1" height="1.02" fill="#2cc43a"/><rect x="21" y="5" width="1" height="1.02" fill="#a6e01e"/><rect x="22" y="5" width="1" height="1.02" fill="#eab522"/><rect x="23" y="5" width="1" height="1.02" fill="#a6e01e"/><rect x="24" y="5" width="1" height="1.02" fill="#eab522"/><rect x="25" y="5" width="3" height="1.02" fill="#d36a30"/><rect x="28" y="5" width="4" height="1.02" fill="#2cc43a"/><rect x="32" y="5" width="3" height="1.02" fill="#1f8c8a"/><rect x="0" y="6" width="3" height="1.02" fill="#1f8c8a"/><rect x="4" y="6" width="2" height="1.02" fill="#eab522"/><rect x="6" y="6" width="3" height="1.02" fill="#d36a30"/><rect x="9" y="6" width="1" height="1.02" fill="#a6e01e"/><rect x="10" y="6" width="1" height="1.02" fill="#2aa866"/><rect x="11" y="6" width="1" height="1.02" fill="#1f8c8a"/><rect x="12" y="6" width="1" height="1.02" fill="#2aa866"/><rect x="13" y="6" width="1" height="1.02" fill="#1f8c8a"/><rect x="14" y="6" width="1" height="1.02" fill="#eab522"/><rect x="15" y="6" width="1" height="1.02" fill="#d36a30"/><rect x="16" y="6" width="1" height="1.02" fill="#e08a28"/><rect x="17" y="6" width="2" height="1.02" fill="#eab522"/><rect x="19" y="6" width="1" height="1.02" fill="#e08a28"/><rect x="20" y="6" width="1" height="1.02" fill="#eab522"/><rect x="21" y="6" width="1" height="1.02" fill="#a6e01e"/><rect x="22" y="6" width="2" height="1.02" fill="#2cc43a"/><rect x="24" y="6" width="1" height="1.02" fill="#a6e01e"/><rect x="25" y="6" width="1" height="1.02" fill="#e08a28"/><rect x="26" y="6" width="2" height="1.02" fill="#d36a30"/><rect x="28" y="6" width="4" height="1.02" fill="#2cc43a"/><rect x="32" y="6" width="3" height="1.02" fill="#1f8c8a"/><rect x="0" y="7" width="3" height="1.02" fill="#e08a28"/><rect x="3" y="7" width="1" height="1.02" fill="#eab522"/><rect x="4" y="7" width="1" height="1.02" fill="#a6e01e"/><rect x="5" y="7" width="1" height="1.02" fill="#eab522"/><rect x="6" y="7" width="1" height="1.02" fill="#d36a30"/><rect x="7" y="7" width="1" height="1.02" fill="#e08a28"/><rect x="8" y="7" width="1" height="1.02" fill="#d36a30"/><rect x="9" y="7" width="2" height="1.02" fill="#eab522"/><rect x="11" y="7" width="1" height="1.02" fill="#e08a28"/><rect x="12" y="7" width="1" height="1.02" fill="#a6e01e"/><rect x="13" y="7" width="1" height="1.02" fill="#2aa866"/><rect x="14" y="7" width="1" height="1.02" fill="#a6e01e"/><rect x="15" y="7" width="1" height="1.02" fill="#eab522"/><rect x="16" y="7" width="2" height="1.02" fill="#e08a28"/><rect x="18" y="7" width="1" height="1.02" fill="#d36a30"/><rect x="19" y="7" width="1" height="1.02" fill="#e08a28"/><rect x="20" y="7" width="1" height="1.02" fill="#eab522"/><rect x="21" y="7" width="1" height="1.02" fill="#a6e01e"/><rect x="22" y="7" width="2" height="1.02" fill="#2cc43a"/><rect x="24" y="7" width="1" height="1.02" fill="#a6e01e"/><rect x="25" y="7" width="1" height="1.02" fill="#eab522"/><rect x="26" y="7" width="1" height="1.02" fill="#a6e01e"/><rect x="27" y="7" width="1" height="1.02" fill="#eab522"/><rect x="28" y="7" width="1" height="1.02" fill="#e08a28"/><rect x="29" y="7" width="1" height="1.02" fill="#d36a30"/><rect x="30" y="7" width="1" height="1.02" fill="#e08a28"/><rect x="31" y="7" width="1" height="1.02" fill="#d36a30"/><rect x="32" y="7" width="3" height="1.02" fill="#1f8c8a"/><rect x="0" y="8" width="4" height="1.02" fill="#d36a30"/><rect x="4" y="8" width="1" height="1.02" fill="#e08a28"/><rect x="5" y="8" width="3" height="1.02" fill="#d36a30"/><rect x="8" y="8" width="2" height="1.02" fill="#e08a28"/><rect x="10" y="8" width="3" height="1.02" fill="#d36a30"/><rect x="13" y="8" width="1" height="1.02" fill="#e08a28"/><rect x="14" y="8" width="7" height="1.02" fill="#d36a30"/><rect x="21" y="8" width="1" height="1.02" fill="#eab522"/><rect x="22" y="8" width="1" height="1.02" fill="#a6e01e"/><rect x="23" y="8" width="1" height="1.02" fill="#2cc43a"/><rect x="24" y="8" width="1" height="1.02" fill="#a6e01e"/><rect x="25" y="8" width="2" height="1.02" fill="#eab522"/><rect x="27" y="8" width="1" height="1.02" fill="#e08a28"/><rect x="28" y="8" width="1" height="1.02" fill="#d36a30"/><rect x="29" y="8" width="1" height="1.02" fill="#e08a28"/><rect x="30" y="8" width="1" height="1.02" fill="#d36a30"/><rect x="32" y="8" width="3" height="1.02" fill="#1f8c8a"/><rect x="0" y="9" width="3" height="1.02" fill="#2cc43a"/><rect x="3" y="9" width="1" height="1.02" fill="#1e5a92"/><rect x="4" y="9" width="1" height="1.02" fill="#eab522"/><rect x="5" y="9" width="1" height="1.02" fill="#e08a28"/><rect x="6" y="9" width="1" height="1.02" fill="#eab522"/><rect x="7" y="9" width="2" height="1.02" fill="#d36a30"/><rect x="9" y="9" width="1" height="1.02" fill="#c8573a"/><rect x="10" y="9" width="1" height="1.02" fill="#d36a30"/><rect x="11" y="9" width="1" height="1.02" fill="#c8573a"/><rect x="12" y="9" width="1" height="1.02" fill="#d36a30"/><rect x="13" y="9" width="2" height="1.02" fill="#e08a28"/><rect x="15" y="9" width="8" height="1.02" fill="#d36a30"/><rect x="23" y="9" width="1" height="1.02" fill="#e08a28"/><rect x="24" y="9" width="3" height="1.02" fill="#eab522"/><rect x="27" y="9" width="1" height="1.02" fill="#e08a28"/><rect x="28" y="9" width="1" height="1.02" fill="#d36a30"/><rect x="29" y="9" width="1" height="1.02" fill="#a6e01e"/><rect x="30" y="9" width="5" height="1.02" fill="#1f8c8a"/><rect x="0" y="10" width="3" height="1.02" fill="#eab522"/><rect x="3" y="10" width="1" height="1.02" fill="#e08a28"/><rect x="4" y="10" width="1" height="1.02" fill="#d36a30"/><rect x="5" y="10" width="1" height="1.02" fill="#c8573a"/><rect x="6" y="10" width="1" height="1.02" fill="#eab522"/><rect x="7" y="10" width="1" height="1.02" fill="#d36a30"/><rect x="8" y="10" width="4" height="1.02" fill="#c8573a"/><rect x="12" y="10" width="1" height="1.02" fill="#d36a30"/><rect x="13" y="10" width="1" height="1.02" fill="#e08a28"/><rect x="14" y="10" width="1" height="1.02" fill="#d36a30"/><rect x="15" y="10" width="1" height="1.02" fill="#e08a28"/><rect x="16" y="10" width="4" height="1.02" fill="#d36a30"/><rect x="20" y="10" width="3" height="1.02" fill="#eab522"/><rect x="23" y="10" width="1" height="1.02" fill="#e08a28"/><rect x="24" y="10" width="3" height="1.02" fill="#eab522"/><rect x="27" y="10" width="1" height="1.02" fill="#d36a30"/><rect x="28" y="10" width="1" height="1.02" fill="#e08a28"/><rect x="29" y="10" width="1" height="1.02" fill="#a6e01e"/><rect x="30" y="10" width="2" height="1.02" fill="#2cc43a"/><rect x="32" y="10" width="3" height="1.02" fill="#1f8c8a"/><rect x="0" y="11" width="3" height="1.02" fill="#d36a30"/><rect x="3" y="11" width="8" height="1.02" fill="#c8573a"/><rect x="11" y="11" width="2" height="1.02" fill="#d36a30"/><rect x="13" y="11" width="2" height="1.02" fill="#e08a28"/><rect x="15" y="11" width="3" height="1.02" fill="#d36a30"/><rect x="18" y="11" width="3" height="1.02" fill="#eab522"/><rect x="21" y="11" width="1" height="1.02" fill="#a6e01e"/><rect x="22" y="11" width="3" height="1.02" fill="#2cc43a"/><rect x="25" y="11" width="1" height="1.02" fill="#2aa866"/><rect x="26" y="11" width="1" height="1.02" fill="#2cc43a"/><rect x="27" y="11" width="1" height="1.02" fill="#a6e01e"/><rect x="28" y="11" width="2" height="1.02" fill="#2cc43a"/><rect x="30" y="11" width="1" height="1.02" fill="#2aa866"/><rect x="31" y="11" width="4" height="1.02" fill="#1f8c8a"/><rect x="0" y="12" width="6" height="1.02" fill="#c8573a"/><rect x="6" y="12" width="8" height="1.02" fill="#d36a30"/><rect x="14" y="12" width="1" height="1.02" fill="#eab522"/><rect x="15" y="12" width="3" height="1.02" fill="#d36a30"/><rect x="18" y="12" width="1" height="1.02" fill="#eab522"/><rect x="19" y="12" width="1" height="1.02" fill="#a6e01e"/><rect x="20" y="12" width="5" height="1.02" fill="#2cc43a"/><rect x="25" y="12" width="1" height="1.02" fill="#1f8c8a"/><rect x="26" y="12" width="2" height="1.02" fill="#2cc43a"/><rect x="28" y="12" width="1" height="1.02" fill="#2aa866"/><rect x="29" y="12" width="1" height="1.02" fill="#1f8c8a"/><rect x="30" y="12" width="1" height="1.02" fill="#2cc43a"/><rect x="31" y="12" width="1" height="1.02" fill="#1f8c8a"/><rect x="0" y="13" width="4" height="1.02" fill="#d36a30"/><rect x="4" y="13" width="2" height="1.02" fill="#c8573a"/><rect x="6" y="13" width="1" height="1.02" fill="#eab522"/><rect x="7" y="13" width="1" height="1.02" fill="#2cc43a"/><rect x="9" y="13" width="2" height="1.02" fill="#1e5a92"/><rect x="12" y="13" width="6" height="1.02" fill="#d36a30"/><rect x="18" y="13" width="1" height="1.02" fill="#eab522"/><rect x="19" y="13" width="1" height="1.02" fill="#1e5a92"/><rect x="20" y="13" width="6" height="1.02" fill="#2cc43a"/><rect x="26" y="13" width="3" height="1.02" fill="#2aa866"/><rect x="29" y="13" width="6" height="1.02" fill="#1f8c8a"/><rect x="0" y="14" width="3" height="1.02" fill="#1f8c8a"/><rect x="3" y="14" width="1" height="1.02" fill="#eab522"/><rect x="4" y="14" width="1" height="1.02" fill="#d36a30"/><rect x="5" y="14" width="1" height="1.02" fill="#c8573a"/><rect x="6" y="14" width="2" height="1.02" fill="#d36a30"/><rect x="8" y="14" width="1" height="1.02" fill="#1f8c8a"/><rect x="10" y="14" width="3" height="1.02" fill="#1e5a92"/><rect x="14" y="14" width="3" height="1.02" fill="#d36a30"/><rect x="17" y="14" width="1" height="1.02" fill="#e08a28"/><rect x="18" y="14" width="1" height="1.02" fill="#eab522"/><rect x="19" y="14" width="7" height="1.02" fill="#2cc43a"/><rect x="26" y="14" width="3" height="1.02" fill="#2aa866"/><rect x="29" y="14" width="6" height="1.02" fill="#1f8c8a"/><rect x="0" y="15" width="3" height="1.02" fill="#1f8c8a"/><rect x="3" y="15" width="1" height="1.02" fill="#eab522"/><rect x="4" y="15" width="1" height="1.02" fill="#d36a30"/><rect x="5" y="15" width="1" height="1.02" fill="#c8573a"/><rect x="6" y="15" width="2" height="1.02" fill="#d36a30"/><rect x="8" y="15" width="1" height="1.02" fill="#1f8c8a"/><rect x="10" y="15" width="3" height="1.02" fill="#1e5a92"/><rect x="14" y="15" width="3" height="1.02" fill="#d36a30"/><rect x="17" y="15" width="1" height="1.02" fill="#e08a28"/><rect x="18" y="15" width="1" height="1.02" fill="#eab522"/><rect x="19" y="15" width="7" height="1.02" fill="#2cc43a"/><rect x="26" y="15" width="3" height="1.02" fill="#2aa866"/><rect x="29" y="15" width="6" height="1.02" fill="#1f8c8a"/><rect x="0" y="16" width="3" height="1.02" fill="#1f8c8a"/><rect x="3" y="16" width="1" height="1.02" fill="#eab522"/><rect x="4" y="16" width="1" height="1.02" fill="#d36a30"/><rect x="5" y="16" width="1" height="1.02" fill="#c8573a"/><rect x="6" y="16" width="2" height="1.02" fill="#d36a30"/><rect x="8" y="16" width="1" height="1.02" fill="#1f8c8a"/><rect x="10" y="16" width="3" height="1.02" fill="#1e5a92"/><rect x="14" y="16" width="3" height="1.02" fill="#d36a30"/><rect x="17" y="16" width="1" height="1.02" fill="#e08a28"/><rect x="18" y="16" width="1" height="1.02" fill="#eab522"/><rect x="19" y="16" width="7" height="1.02" fill="#2cc43a"/><rect x="26" y="16" width="3" height="1.02" fill="#2aa866"/><rect x="29" y="16" width="6" height="1.02" fill="#1f8c8a"/></g></svg><svg style="position:absolute;left:0;top:0" width="622" height="266.0"><line x1="282" y1="32.3" x2="352" y2="-1.8" stroke="#c8dc2c" stroke-width="10" stroke-opacity="0.85"/><line x1="294" y1="26.2" x2="351" y2="-1.5" stroke="#cc4f2e" stroke-width="6"/><polygon points="523.8,215.3 533.1,206.0 544.8,203.6 551.7,203.6 558.7,210.6 561.1,215.3 551.7,220.0 549.4,229.3 554.1,235.1 563.4,231.6 579.7,224.6 598.4,223.5 610.0,227.0 612.4,234.0 612.4,252.6 624.0,254.9 624.0,268.0 509.8,268.0 509.8,259.6 505.1,252.6 486.5,247.9 486.5,231.6 509.8,230.5 516.8,223.5" fill="#c8573a" stroke="#e6d024" stroke-width="4" stroke-linejoin="round" paint-order="stroke"/><ellipse cx="549" cy="267.0" rx="20" ry="7.5" fill="#36b84c" stroke="#e6d024" stroke-width="2"/><circle cx="356.5" cy="231" r="6.5" fill="#2a8a7a" stroke="#1b3f8c" stroke-width="4.5"/><line x1="38.5" y1="0" x2="38.5" y2="266.0" stroke="#555" stroke-opacity="0.12" stroke-width="1"/><line x1="200.2" y1="0" x2="200.2" y2="266.0" stroke="#555" stroke-opacity="0.12" stroke-width="1"/><line x1="361.9" y1="0" x2="361.9" y2="266.0" stroke="#555" stroke-opacity="0.12" stroke-width="1"/><line x1="523.6" y1="0" x2="523.6" y2="266.0" stroke="#555" stroke-opacity="0.12" stroke-width="1"/><line x1="0" y1="57.5" x2="622" y2="57.5" stroke="#555" stroke-opacity="0.12" stroke-width="1"/><line x1="0" y1="218.5" x2="622" y2="218.5" stroke="#555" stroke-opacity="0.12" stroke-width="1"/></svg></div><div style="position:absolute;left:67px;top:62.0px;width:1249px;height:2.5px;background:#000"></div><div style="position:absolute;left:67px;top:330.75px;width:1249px;height:3.5px;background:#000"></div><div style="position:absolute;left:67px;top:599.9000000000001px;width:1249px;height:3.6px;background:#000"></div><div style="position:absolute;left:67px;top:868.3px;width:1249px;height:3.4px;background:#000"></div><div style="position:absolute;left:67px;top:1137.0px;width:1249px;height:2.6px;background:#000"></div><div style="position:absolute;left:66.89999999999999px;top:62px;width:2.4px;height:1077.6px;background:#000"></div><div style="position:absolute;left:688.6999999999999px;top:62px;width:4.2px;height:1077.6px;background:#000"></div><div style="position:absolute;left:1313.6px;top:62px;width:2.4px;height:1077.6px;background:#000"></div><div style="position:absolute;left:106.7px;top:54px;width:1.6px;height:8.5px;background:#000"></div><div style="position:absolute;left:106.7px;top:1139.5px;width:1.6px;height:8.5px;background:#000"></div><div style="position:absolute;left:268.4px;top:54px;width:1.6px;height:8.5px;background:#000"></div><div style="position:absolute;left:268.4px;top:1139.5px;width:1.6px;height:8.5px;background:#000"></div><div style="position:absolute;left:430.09999999999997px;top:54px;width:1.6px;height:8.5px;background:#000"></div><div style="position:absolute;left:430.09999999999997px;top:1139.5px;width:1.6px;height:8.5px;background:#000"></div><div style="position:absolute;left:591.8000000000001px;top:54px;width:1.6px;height:8.5px;background:#000"></div><div style="position:absolute;left:591.8000000000001px;top:1139.5px;width:1.6px;height:8.5px;background:#000"></div><div style="position:absolute;left:731.7px;top:54px;width:1.6px;height:8.5px;background:#000"></div><div style="position:absolute;left:731.7px;top:1139.5px;width:1.6px;height:8.5px;background:#000"></div><div style="position:absolute;left:893.4000000000001px;top:54px;width:1.6px;height:8.5px;background:#000"></div><div style="position:absolute;left:893.4000000000001px;top:1139.5px;width:1.6px;height:8.5px;background:#000"></div><div style="position:absolute;left:1055.1000000000001px;top:54px;width:1.6px;height:8.5px;background:#000"></div><div style="position:absolute;left:1055.1000000000001px;top:1139.5px;width:1.6px;height:8.5px;background:#000"></div><div style="position:absolute;left:1216.8px;top:54px;width:1.6px;height:8.5px;background:#000"></div><div style="position:absolute;left:1216.8px;top:1139.5px;width:1.6px;height:8.5px;background:#000"></div><div style="position:absolute;left:56.5px;top:120.1px;width:11px;height:1.8px;background:#000"></div><div style="position:absolute;left:1316px;top:120.1px;width:9.5px;height:1.8px;background:#000"></div><div style="position:absolute;left:56.5px;top:281.1px;width:11px;height:1.8px;background:#000"></div><div style="position:absolute;left:1316px;top:281.1px;width:9.5px;height:1.8px;background:#000"></div><div style="position:absolute;left:56.5px;top:388.90000000000003px;width:11px;height:1.8px;background:#000"></div><div style="position:absolute;left:1316px;top:388.90000000000003px;width:9.5px;height:1.8px;background:#000"></div><div style="position:absolute;left:56.5px;top:549.9px;width:11px;height:1.8px;background:#000"></div><div style="position:absolute;left:1316px;top:549.9px;width:9.5px;height:1.8px;background:#000"></div><div style="position:absolute;left:56.5px;top:657.7px;width:11px;height:1.8px;background:#000"></div><div style="position:absolute;left:1316px;top:657.7px;width:9.5px;height:1.8px;background:#000"></div><div style="position:absolute;left:56.5px;top:818.7000000000002px;width:11px;height:1.8px;background:#000"></div><div style="position:absolute;left:1316px;top:818.7000000000002px;width:9.5px;height:1.8px;background:#000"></div><div style="position:absolute;left:56.5px;top:926.5000000000001px;width:11px;height:1.8px;background:#000"></div><div style="position:absolute;left:1316px;top:926.5000000000001px;width:9.5px;height:1.8px;background:#000"></div><div style="position:absolute;left:56.5px;top:1087.5px;width:11px;height:1.8px;background:#000"></div><div style="position:absolute;left:1316px;top:1087.5px;width:9.5px;height:1.8px;background:#000"></div><div style="position:absolute;left:47.5px;top:18px;width:120px;text-align:center;font:bold 34px/34px 'Liberation Serif', serif;color:#000">90°E</div><div style="position:absolute;left:47.5px;top:1152.5px;width:120px;text-align:center;font:bold 34px/34px 'Liberation Serif', serif;color:#000">90°E</div><div style="position:absolute;left:209.2px;top:18px;width:120px;text-align:center;font:bold 34px/34px 'Liberation Serif', serif;color:#000">100°E</div><div style="position:absolute;left:209.2px;top:1152.5px;width:120px;text-align:center;font:bold 34px/34px 'Liberation Serif', serif;color:#000">100°E</div><div style="position:absolute;left:370.9px;top:18px;width:120px;text-align:center;font:bold 34px/34px 'Liberation Serif', serif;color:#000">110°E</div><div style="position:absolute;left:370.9px;top:1152.5px;width:120px;text-align:center;font:bold 34px/34px 'Liberation Serif', serif;color:#000">110°E</div><div style="position:absolute;left:532.6px;top:18px;width:120px;text-align:center;font:bold 34px/34px 'Liberation Serif', serif;color:#000">120°E</div><div style="position:absolute;left:532.6px;top:1152.5px;width:120px;text-align:center;font:bold 34px/34px 'Liberation Serif', serif;color:#000">120°E</div><div style="position:absolute;left:672.5px;top:18px;width:120px;text-align:center;font:bold 34px/34px 'Liberation Serif', serif;color:#000">90°E</div><div style="position:absolute;left:672.5px;top:1152.5px;width:120px;text-align:center;font:bold 34px/34px 'Liberation Serif', serif;color:#000">90°E</div><div style="position:absolute;left:834.2px;top:18px;width:120px;text-align:center;font:bold 34px/34px 'Liberation Serif', serif;color:#000">100°E</div><div style="position:absolute;left:834.2px;top:1152.5px;width:120px;text-align:center;font:bold 34px/34px 'Liberation Serif', serif;color:#000">100°E</div><div style="position:absolute;left:995.9000000000001px;top:18px;width:120px;text-align:center;font:bold 34px/34px 'Liberation Serif', serif;color:#000">110°E</div><div style="position:absolute;left:995.9000000000001px;top:1152.5px;width:120px;text-align:center;font:bold 34px/34px 'Liberation Serif', serif;color:#000">110°E</div><div style="position:absolute;left:1157.6px;top:18px;width:120px;text-align:center;font:bold 34px/34px 'Liberation Serif', serif;color:#000">120°E</div><div style="position:absolute;left:1157.6px;top:1152.5px;width:120px;text-align:center;font:bold 34px/34px 'Liberation Serif', serif;color:#000">120°E</div><div style="position:absolute;left:19px;top:61.0px;width:34px;height:120px;"><div style="position:absolute;left:50%;top:50%;transform:translate(-50%,-50%) rotate(-90deg);font:bold 34px/34px 'Liberation Serif', serif;white-space:nowrap">50°N</div></div><div style="position:absolute;left:1328px;top:61.0px;width:34px;height:120px;"><div style="position:absolute;left:50%;top:50%;transform:translate(-50%,-50%) rotate(-90deg);font:bold 34px/34px 'Liberation Serif', serif;white-space:nowrap">50°N</div></div><div style="position:absolute;left:19px;top:222.0px;width:34px;height:120px;"><div style="position:absolute;left:50%;top:50%;transform:translate(-50%,-50%) rotate(-90deg);font:bold 34px/34px 'Liberation Serif', serif;white-space:nowrap">40°N</div></div><div style="position:absolute;left:1328px;top:222.0px;width:34px;height:120px;"><div style="position:absolute;left:50%;top:50%;transform:translate(-50%,-50%) rotate(-90deg);font:bold 34px/34px 'Liberation Serif', serif;white-space:nowrap">40°N</div></div><div style="position:absolute;left:19px;top:329.8px;width:34px;height:120px;"><div style="position:absolute;left:50%;top:50%;transform:translate(-50%,-50%) rotate(-90deg);font:bold 34px/34px 'Liberation Serif', serif;white-space:nowrap">50°N</div></div><div style="position:absolute;left:1328px;top:329.8px;width:34px;height:120px;"><div style="position:absolute;left:50%;top:50%;transform:translate(-50%,-50%) rotate(-90deg);font:bold 34px/34px 'Liberation Serif', serif;white-space:nowrap">50°N</div></div><div style="position:absolute;left:19px;top:490.79999999999995px;width:34px;height:120px;"><div style="position:absolute;left:50%;top:50%;transform:translate(-50%,-50%) rotate(-90deg);font:bold 34px/34px 'Liberation Serif', serif;white-space:nowrap">40°N</div></div><div style="position:absolute;left:1328px;top:490.79999999999995px;width:34px;height:120px;"><div style="position:absolute;left:50%;top:50%;transform:translate(-50%,-50%) rotate(-90deg);font:bold 34px/34px 'Liberation Serif', serif;white-space:nowrap">40°N</div></div><div style="position:absolute;left:19px;top:598.6px;width:34px;height:120px;"><div style="position:absolute;left:50%;top:50%;transform:translate(-50%,-50%) rotate(-90deg);font:bold 34px/34px 'Liberation Serif', serif;white-space:nowrap">50°N</div></div><div style="position:absolute;left:1328px;top:598.6px;width:34px;height:120px;"><div style="position:absolute;left:50%;top:50%;transform:translate(-50%,-50%) rotate(-90deg);font:bold 34px/34px 'Liberation Serif', serif;white-space:nowrap">50°N</div></div><div style="position:absolute;left:19px;top:759.6000000000001px;width:34px;height:120px;"><div style="position:absolute;left:50%;top:50%;transform:translate(-50%,-50%) rotate(-90deg);font:bold 34px/34px 'Liberation Serif', serif;white-space:nowrap">40°N</div></div><div style="position:absolute;left:1328px;top:759.6000000000001px;width:34px;height:120px;"><div style="position:absolute;left:50%;top:50%;transform:translate(-50%,-50%) rotate(-90deg);font:bold 34px/34px 'Liberation Serif', serif;white-space:nowrap">40°N</div></div><div style="position:absolute;left:19px;top:867.4000000000001px;width:34px;height:120px;"><div style="position:absolute;left:50%;top:50%;transform:translate(-50%,-50%) rotate(-90deg);font:bold 34px/34px 'Liberation Serif', serif;white-space:nowrap">50°N</div></div><div style="position:absolute;left:1328px;top:867.4000000000001px;width:34px;height:120px;"><div style="position:absolute;left:50%;top:50%;transform:translate(-50%,-50%) rotate(-90deg);font:bold 34px/34px 'Liberation Serif', serif;white-space:nowrap">50°N</div></div><div style="position:absolute;left:19px;top:1028.4px;width:34px;height:120px;"><div style="position:absolute;left:50%;top:50%;transform:translate(-50%,-50%) rotate(-90deg);font:bold 34px/34px 'Liberation Serif', serif;white-space:nowrap">40°N</div></div><div style="position:absolute;left:1328px;top:1028.4px;width:34px;height:120px;"><div style="position:absolute;left:50%;top:50%;transform:translate(-50%,-50%) rotate(-90deg);font:bold 34px/34px 'Liberation Serif', serif;white-space:nowrap">40°N</div></div><div style="position:absolute;left:107.39999999999999px;top:77.5px;font:bold 41.8px/41.8px 'Liberation Serif', serif;color:#fff;white-space:nowrap">(a) August - December 2016</div><div style="position:absolute;left:726.3000000000001px;top:75.5px;font:bold 41.8px/41.8px 'Liberation Serif', serif;color:#fff;white-space:nowrap">(b) January - April 2017</div><div style="position:absolute;left:112.19999999999999px;top:354.8px;font:bold 41.8px/41.8px 'Liberation Serif', serif;color:#fff;white-space:nowrap">(c) August - December 2017</div><div style="position:absolute;left:725.6px;top:352.2px;font:bold 41.8px/41.8px 'Liberation Serif', serif;color:#fff;white-space:nowrap">(d) January - April 2018</div><div style="position:absolute;left:113.5px;top:622.9px;font:bold 41.8px/41.8px 'Liberation Serif', serif;color:#fff;white-space:nowrap">(e) August - December 2018</div><div style="position:absolute;left:732.7px;top:621px;font:bold 41.8px/41.8px 'Liberation Serif', serif;color:#fff;white-space:nowrap">(f) January - April 2019</div><div style="position:absolute;left:109.69999999999999px;top:890.6px;font:bold 41.8px/41.8px 'Liberation Serif', serif;color:#fff;white-space:nowrap">(g) August - December 2019</div><div style="position:absolute;left:741.4px;top:892.5px;font:bold 41.8px/41.8px 'Liberation Serif', serif;color:#fff;white-space:nowrap">(h) January - April 2020</div><div style="position:absolute;left:67.6px;top:1205.5px;width:496.8px;height:25.8px;background:linear-gradient(to right,#c8553c 0%,#d8712e 10%,#e8951e 20%,#f0bc10 30%,#f8f800 40%,#a8f000 50%,#10d818 60%,#2cb858 70%,#20968c 80%,#1f5e88 90%,#1a2c78 100%)"></div><div style="position:absolute;left:67.1px;top:1231.3px;width:1px;height:3px;background:#bbb"></div><div style="position:absolute;left:116.78px;top:1231.3px;width:1px;height:3px;background:#bbb"></div><div style="position:absolute;left:166.45999999999998px;top:1231.3px;width:1px;height:3px;background:#bbb"></div><div style="position:absolute;left:216.14px;top:1231.3px;width:1px;height:3px;background:#bbb"></div><div style="position:absolute;left:265.82px;top:1231.3px;width:1px;height:3px;background:#bbb"></div><div style="position:absolute;left:315.5px;top:1231.3px;width:1px;height:3px;background:#bbb"></div><div style="position:absolute;left:365.17999999999995px;top:1231.3px;width:1px;height:3px;background:#bbb"></div><div style="position:absolute;left:414.86px;top:1231.3px;width:1px;height:3px;background:#bbb"></div><div style="position:absolute;left:464.53999999999996px;top:1231.3px;width:1px;height:3px;background:#bbb"></div><div style="position:absolute;left:514.22px;top:1231.3px;width:1px;height:3px;background:#bbb"></div><div style="position:absolute;left:563.9px;top:1231.3px;width:1px;height:3px;background:#bbb"></div><div style="position:absolute;left:12.899999999999999px;top:1237.5px;width:100px;text-align:center;font:bold 35.5px/35.5px 'Liberation Serif', serif;color:#000">0</div><div style="position:absolute;left:108.80000000000001px;top:1237.5px;width:100px;text-align:center;font:bold 35.5px/35.5px 'Liberation Serif', serif;color:#000">0.08</div><div style="position:absolute;left:208.3px;top:1237.5px;width:100px;text-align:center;font:bold 35.5px/35.5px 'Liberation Serif', serif;color:#000">0.16</div><div style="position:absolute;left:312px;top:1237.5px;width:100px;text-align:center;font:bold 35.5px/35.5px 'Liberation Serif', serif;color:#000">0.24</div><div style="position:absolute;left:415px;top:1237.5px;width:100px;text-align:center;font:bold 35.5px/35.5px 'Liberation Serif', serif;color:#000">0.32</div><div style="position:absolute;left:510px;top:1237.5px;width:100px;text-align:center;font:bold 35.5px/35.5px 'Liberation Serif', serif;color:#000">0.4</div><div style="position:absolute;left:572px;top:1197px;font:bold 32px/32px 'Liberation Serif', serif;color:#000;white-space:nowrap">(m<span style="font-size:0.68em;position:relative;top:-0.58em;margin:0 1.5px 0 2.5px">3</span>/m<span style="font-size:0.68em;position:relative;top:-0.58em;margin:0 1.5px 0 2.5px">3</span>)</div><div style="position:absolute;left:723.7px;top:1215.5px;width:73.4px;height:2.6px;background:#858585"></div><div style="position:absolute;left:809.5px;top:1198px;font:bold 34px/34px 'Liberation Serif', serif;color:#000;white-space:nowrap">National boundary</div><div style="position:absolute;left:724.8px;top:1264px;width:73.6px;height:10.9px;background:#fff;box-sizing:border-box;border:1.7px solid #000"></div><div style="position:absolute;left:724.8px;top:1264px;width:37.8px;height:10.9px;background:#000"></div><div style="position:absolute;left:807.5px;top:1247.5px;font:bold 34px/34px 'Liberation Serif', serif;color:#000;white-space:nowrap">Kilometers</div><div style="position:absolute;left:717px;top:1286px;font:bold 34px/34px 'Liberation Serif', serif;color:#000;white-space:nowrap">0</div><div style="position:absolute;left:772px;top:1286px;font:bold 34px/34px 'Liberation Serif', serif;color:#000;white-space:nowrap">500</div>
</body></html>
